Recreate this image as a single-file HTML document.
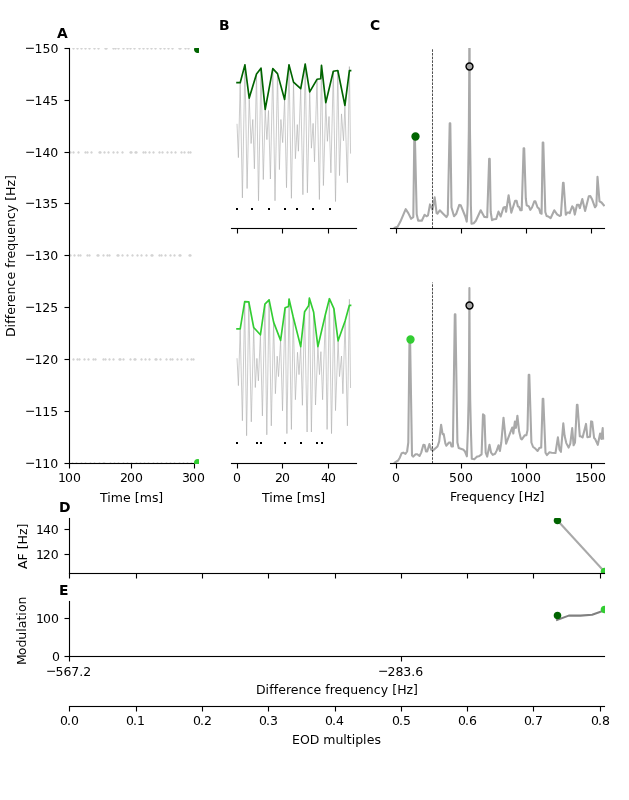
<!DOCTYPE html>
<html lang="en"><head><meta charset="utf-8"><title>Figure</title>
<style>
html,body{margin:0;padding:0;background:#fff;}
body{width:629px;height:800px;overflow:hidden;position:relative;font-family:"DejaVu Sans","Liberation Sans",sans-serif;}
svg{display:block;position:absolute;left:0;top:0;}
svg text{font-family:"DejaVu Sans","Liberation Sans",sans-serif;fill:#000;}
svg path{stroke-linejoin:round;stroke-linecap:butt;}
</style></head><body>
<svg width="629" height="800" viewBox="0 0 629 800" role="img" aria-label="Figure with panels A to E">
<defs><clipPath id="c1"><rect x="69" y="48" width="126" height="416"/></clipPath><clipPath id="c2"><rect x="69" y="48" width="130" height="416"/></clipPath><clipPath id="c3"><rect x="231" y="48" width="126" height="181"/></clipPath><clipPath id="c4"><rect x="231" y="282" width="126" height="182"/></clipPath><clipPath id="c5"><rect x="390" y="48" width="215" height="181"/></clipPath><clipPath id="c6"><rect x="390" y="282" width="215" height="182"/></clipPath><clipPath id="c7"><rect x="69" y="518" width="536" height="56"/></clipPath><clipPath id="c8"><rect x="69" y="601" width="536" height="56"/></clipPath></defs>
<rect x="68.945" y="463.5" width="1.111" height="5" fill="#000"/>
<text id="t0" x="57.94 64.95 72.98" y="481.82" style="font-size:12.5px">100</text>
<rect x="130.945" y="463.5" width="1.111" height="5" fill="#000"/>
<text id="t1" x="119.94 126.99 134.91" y="481.7" style="font-size:12.5px">200</text>
<rect x="193.945" y="463.5" width="1.111" height="5" fill="#000"/>
<text id="t2" x="181.89 188.89 196.89" y="481.57" style="font-size:12.5px">300</text>
<text id="t3" x="99.99 107.28 110.8 123.03 130.77 134.8 139.72 151.94 158.13" y="501.72" style="font-size:12.5px">Time [ms]</text>
<rect x="64.5" y="47.944" width="5" height="1.111" fill="#000"/>
<text id="t4" x="24.63 34.43 42.6 50.59" y="51.62 52.62 52.62 52.62" style="font-size:12.5px">−150</text>
<rect x="64.5" y="99.945" width="5" height="1.111" fill="#000"/>
<text id="t5" x="24.9 34.54 42.42 50.29" y="103.57 104.57 104.57 104.57" style="font-size:12.5px">−145</text>
<rect x="64.5" y="151.945" width="5" height="1.111" fill="#000"/>
<text id="t6" x="24.9 34.54 42.42 50.29" y="155.52 156.52 156.52 156.52" style="font-size:12.5px">−140</text>
<rect x="64.5" y="202.945" width="5" height="1.111" fill="#000"/>
<text id="t7" x="24.9 34.54 42.17 50.29" y="206.6 207.6 207.6 207.6" style="font-size:12.5px">−135</text>
<rect x="64.5" y="254.945" width="5" height="1.111" fill="#000"/>
<text id="t8" x="24.9 34.54 42.17 50.29" y="258.55 259.55 259.55 259.55" style="font-size:12.5px">−130</text>
<rect x="64.5" y="306.945" width="5" height="1.111" fill="#000"/>
<text id="t9" x="24.9 34.54 42.17 50.29" y="310.62 311.62 311.62 311.62" style="font-size:12.5px">−125</text>
<rect x="64.5" y="358.945" width="5" height="1.111" fill="#000"/>
<text id="t10" x="24.9 34.54 42.17 50.29" y="362.57 363.57 363.57 363.57" style="font-size:12.5px">−120</text>
<rect x="64.5" y="410.945" width="5" height="1.111" fill="#000"/>
<text id="t11" x="24.93 34.48 42.37 50.28" y="414.52 415.52 415.52 415.52" style="font-size:12.5px">−115</text>
<rect x="64.5" y="462.945" width="5" height="1.111" fill="#000"/>
<text id="t12" x="24.93 34.48 42.37 50.28" y="466.6 467.6 467.6 467.6" style="font-size:12.5px">−110</text>
<text id="t13" x="-66.45 -57.17 -53.28 -48.84 -44.4 -36.93 -31.78 -24.04 -16.09 -9.17 -1.45 2.69 7 11.91 19.63 27.61 35.69 43.43 51.38 58.16 65.6 69.61 74.54 83.97 90.57" y="255.92" transform="rotate(-90 14.52 255.92)" style="font-size:12.5px">Difference frequency [Hz]</text>
<g clip-path="url(#c1)">
<path d="M73.5 49.7C73.82 49.7 74.12 49.57 74.35 49.35C74.57 49.12 74.7 48.82 74.7 48.5C74.7 48.18 74.57 47.88 74.35 47.65C74.12 47.43 73.82 47.3 73.5 47.3C73.18 47.3 72.88 47.43 72.65 47.65C72.43 47.88 72.3 48.18 72.3 48.5C72.3 48.82 72.43 49.12 72.65 49.35C72.88 49.57 73.18 49.7 73.5 49.7Z" style="fill:#d3d3d3;stroke:#000000;stroke-opacity:0"/>
<path d="M77.5 49.7C77.82 49.7 78.12 49.57 78.35 49.35C78.57 49.12 78.7 48.82 78.7 48.5C78.7 48.18 78.57 47.88 78.35 47.65C78.12 47.43 77.82 47.3 77.5 47.3C77.18 47.3 76.88 47.43 76.65 47.65C76.43 47.88 76.3 48.18 76.3 48.5C76.3 48.82 76.43 49.12 76.65 49.35C76.88 49.57 77.18 49.7 77.5 49.7Z" style="fill:#d3d3d3;stroke:#000000;stroke-opacity:0"/>
<path d="M81.5 49.7C81.82 49.7 82.12 49.57 82.35 49.35C82.57 49.12 82.7 48.82 82.7 48.5C82.7 48.18 82.57 47.88 82.35 47.65C82.12 47.43 81.82 47.3 81.5 47.3C81.18 47.3 80.88 47.43 80.65 47.65C80.43 47.88 80.3 48.18 80.3 48.5C80.3 48.82 80.43 49.12 80.65 49.35C80.88 49.57 81.18 49.7 81.5 49.7Z" style="fill:#d3d3d3;stroke:#000000;stroke-opacity:0"/>
<path d="M85.5 49.7C85.82 49.7 86.12 49.57 86.35 49.35C86.57 49.12 86.7 48.82 86.7 48.5C86.7 48.18 86.57 47.88 86.35 47.65C86.12 47.43 85.82 47.3 85.5 47.3C85.18 47.3 84.88 47.43 84.65 47.65C84.43 47.88 84.3 48.18 84.3 48.5C84.3 48.82 84.43 49.12 84.65 49.35C84.88 49.57 85.18 49.7 85.5 49.7Z" style="fill:#d3d3d3;stroke:#000000;stroke-opacity:0"/>
<path d="M89.5 49.7C89.82 49.7 90.12 49.57 90.35 49.35C90.57 49.12 90.7 48.82 90.7 48.5C90.7 48.18 90.57 47.88 90.35 47.65C90.12 47.43 89.82 47.3 89.5 47.3C89.18 47.3 88.88 47.43 88.65 47.65C88.43 47.88 88.3 48.18 88.3 48.5C88.3 48.82 88.43 49.12 88.65 49.35C88.88 49.57 89.18 49.7 89.5 49.7Z" style="fill:#d3d3d3;stroke:#000000;stroke-opacity:0"/>
<path d="M94.5 49.7C94.82 49.7 95.12 49.57 95.35 49.35C95.57 49.12 95.7 48.82 95.7 48.5C95.7 48.18 95.57 47.88 95.35 47.65C95.12 47.43 94.82 47.3 94.5 47.3C94.18 47.3 93.88 47.43 93.65 47.65C93.43 47.88 93.3 48.18 93.3 48.5C93.3 48.82 93.43 49.12 93.65 49.35C93.88 49.57 94.18 49.7 94.5 49.7Z" style="fill:#d3d3d3;stroke:#000000;stroke-opacity:0"/>
<path d="M98.5 49.7C98.82 49.7 99.12 49.57 99.35 49.35C99.57 49.12 99.7 48.82 99.7 48.5C99.7 48.18 99.57 47.88 99.35 47.65C99.12 47.43 98.82 47.3 98.5 47.3C98.18 47.3 97.88 47.43 97.65 47.65C97.43 47.88 97.3 48.18 97.3 48.5C97.3 48.82 97.43 49.12 97.65 49.35C97.88 49.57 98.18 49.7 98.5 49.7Z" style="fill:#d3d3d3;stroke:#000000;stroke-opacity:0"/>
<path d="M105.5 49.7C105.82 49.7 106.12 49.57 106.35 49.35C106.57 49.12 106.7 48.82 106.7 48.5C106.7 48.18 106.57 47.88 106.35 47.65C106.12 47.43 105.82 47.3 105.5 47.3C105.18 47.3 104.88 47.43 104.65 47.65C104.43 47.88 104.3 48.18 104.3 48.5C104.3 48.82 104.43 49.12 104.65 49.35C104.88 49.57 105.18 49.7 105.5 49.7Z" style="fill:#d3d3d3;stroke:#000000;stroke-opacity:0"/>
<path d="M106.5 49.7C106.82 49.7 107.12 49.57 107.35 49.35C107.57 49.12 107.7 48.82 107.7 48.5C107.7 48.18 107.57 47.88 107.35 47.65C107.12 47.43 106.82 47.3 106.5 47.3C106.18 47.3 105.88 47.43 105.65 47.65C105.43 47.88 105.3 48.18 105.3 48.5C105.3 48.82 105.43 49.12 105.65 49.35C105.88 49.57 106.18 49.7 106.5 49.7Z" style="fill:#d3d3d3;stroke:#000000;stroke-opacity:0"/>
<path d="M113.5 49.7C113.82 49.7 114.12 49.57 114.35 49.35C114.57 49.12 114.7 48.82 114.7 48.5C114.7 48.18 114.57 47.88 114.35 47.65C114.12 47.43 113.82 47.3 113.5 47.3C113.18 47.3 112.88 47.43 112.65 47.65C112.43 47.88 112.3 48.18 112.3 48.5C112.3 48.82 112.43 49.12 112.65 49.35C112.88 49.57 113.18 49.7 113.5 49.7Z" style="fill:#d3d3d3;stroke:#000000;stroke-opacity:0"/>
<path d="M115.5 49.7C115.82 49.7 116.12 49.57 116.35 49.35C116.57 49.12 116.7 48.82 116.7 48.5C116.7 48.18 116.57 47.88 116.35 47.65C116.12 47.43 115.82 47.3 115.5 47.3C115.18 47.3 114.88 47.43 114.65 47.65C114.43 47.88 114.3 48.18 114.3 48.5C114.3 48.82 114.43 49.12 114.65 49.35C114.88 49.57 115.18 49.7 115.5 49.7Z" style="fill:#d3d3d3;stroke:#000000;stroke-opacity:0"/>
<path d="M118.5 49.7C118.82 49.7 119.12 49.57 119.35 49.35C119.57 49.12 119.7 48.82 119.7 48.5C119.7 48.18 119.57 47.88 119.35 47.65C119.12 47.43 118.82 47.3 118.5 47.3C118.18 47.3 117.88 47.43 117.65 47.65C117.43 47.88 117.3 48.18 117.3 48.5C117.3 48.82 117.43 49.12 117.65 49.35C117.88 49.57 118.18 49.7 118.5 49.7Z" style="fill:#d3d3d3;stroke:#000000;stroke-opacity:0"/>
<path d="M123.5 49.7C123.82 49.7 124.12 49.57 124.35 49.35C124.57 49.12 124.7 48.82 124.7 48.5C124.7 48.18 124.57 47.88 124.35 47.65C124.12 47.43 123.82 47.3 123.5 47.3C123.18 47.3 122.88 47.43 122.65 47.65C122.43 47.88 122.3 48.18 122.3 48.5C122.3 48.82 122.43 49.12 122.65 49.35C122.88 49.57 123.18 49.7 123.5 49.7Z" style="fill:#d3d3d3;stroke:#000000;stroke-opacity:0"/>
<path d="M127.5 49.7C127.82 49.7 128.12 49.57 128.35 49.35C128.57 49.12 128.7 48.82 128.7 48.5C128.7 48.18 128.57 47.88 128.35 47.65C128.12 47.43 127.82 47.3 127.5 47.3C127.18 47.3 126.88 47.43 126.65 47.65C126.43 47.88 126.3 48.18 126.3 48.5C126.3 48.82 126.43 49.12 126.65 49.35C126.88 49.57 127.18 49.7 127.5 49.7Z" style="fill:#d3d3d3;stroke:#000000;stroke-opacity:0"/>
<path d="M130.5 49.7C130.82 49.7 131.12 49.57 131.35 49.35C131.57 49.12 131.7 48.82 131.7 48.5C131.7 48.18 131.57 47.88 131.35 47.65C131.12 47.43 130.82 47.3 130.5 47.3C130.18 47.3 129.88 47.43 129.65 47.65C129.43 47.88 129.3 48.18 129.3 48.5C129.3 48.82 129.43 49.12 129.65 49.35C129.88 49.57 130.18 49.7 130.5 49.7Z" style="fill:#d3d3d3;stroke:#000000;stroke-opacity:0"/>
<path d="M134.5 49.7C134.82 49.7 135.12 49.57 135.35 49.35C135.57 49.12 135.7 48.82 135.7 48.5C135.7 48.18 135.57 47.88 135.35 47.65C135.12 47.43 134.82 47.3 134.5 47.3C134.18 47.3 133.88 47.43 133.65 47.65C133.43 47.88 133.3 48.18 133.3 48.5C133.3 48.82 133.43 49.12 133.65 49.35C133.88 49.57 134.18 49.7 134.5 49.7Z" style="fill:#d3d3d3;stroke:#000000;stroke-opacity:0"/>
<path d="M139.5 49.7C139.82 49.7 140.12 49.57 140.35 49.35C140.57 49.12 140.7 48.82 140.7 48.5C140.7 48.18 140.57 47.88 140.35 47.65C140.12 47.43 139.82 47.3 139.5 47.3C139.18 47.3 138.88 47.43 138.65 47.65C138.43 47.88 138.3 48.18 138.3 48.5C138.3 48.82 138.43 49.12 138.65 49.35C138.88 49.57 139.18 49.7 139.5 49.7Z" style="fill:#d3d3d3;stroke:#000000;stroke-opacity:0"/>
<path d="M143.5 49.7C143.82 49.7 144.12 49.57 144.35 49.35C144.57 49.12 144.7 48.82 144.7 48.5C144.7 48.18 144.57 47.88 144.35 47.65C144.12 47.43 143.82 47.3 143.5 47.3C143.18 47.3 142.88 47.43 142.65 47.65C142.43 47.88 142.3 48.18 142.3 48.5C142.3 48.82 142.43 49.12 142.65 49.35C142.88 49.57 143.18 49.7 143.5 49.7Z" style="fill:#d3d3d3;stroke:#000000;stroke-opacity:0"/>
<path d="M147.5 49.7C147.82 49.7 148.12 49.57 148.35 49.35C148.57 49.12 148.7 48.82 148.7 48.5C148.7 48.18 148.57 47.88 148.35 47.65C148.12 47.43 147.82 47.3 147.5 47.3C147.18 47.3 146.88 47.43 146.65 47.65C146.43 47.88 146.3 48.18 146.3 48.5C146.3 48.82 146.43 49.12 146.65 49.35C146.88 49.57 147.18 49.7 147.5 49.7Z" style="fill:#d3d3d3;stroke:#000000;stroke-opacity:0"/>
<path d="M151.5 49.7C151.82 49.7 152.12 49.57 152.35 49.35C152.57 49.12 152.7 48.82 152.7 48.5C152.7 48.18 152.57 47.88 152.35 47.65C152.12 47.43 151.82 47.3 151.5 47.3C151.18 47.3 150.88 47.43 150.65 47.65C150.43 47.88 150.3 48.18 150.3 48.5C150.3 48.82 150.43 49.12 150.65 49.35C150.88 49.57 151.18 49.7 151.5 49.7Z" style="fill:#d3d3d3;stroke:#000000;stroke-opacity:0"/>
<path d="M155.5 49.7C155.82 49.7 156.12 49.57 156.35 49.35C156.57 49.12 156.7 48.82 156.7 48.5C156.7 48.18 156.57 47.88 156.35 47.65C156.12 47.43 155.82 47.3 155.5 47.3C155.18 47.3 154.88 47.43 154.65 47.65C154.43 47.88 154.3 48.18 154.3 48.5C154.3 48.82 154.43 49.12 154.65 49.35C154.88 49.57 155.18 49.7 155.5 49.7Z" style="fill:#d3d3d3;stroke:#000000;stroke-opacity:0"/>
<path d="M160.5 49.7C160.82 49.7 161.12 49.57 161.35 49.35C161.57 49.12 161.7 48.82 161.7 48.5C161.7 48.18 161.57 47.88 161.35 47.65C161.12 47.43 160.82 47.3 160.5 47.3C160.18 47.3 159.88 47.43 159.65 47.65C159.43 47.88 159.3 48.18 159.3 48.5C159.3 48.82 159.43 49.12 159.65 49.35C159.88 49.57 160.18 49.7 160.5 49.7Z" style="fill:#d3d3d3;stroke:#000000;stroke-opacity:0"/>
<path d="M164.5 49.7C164.82 49.7 165.12 49.57 165.35 49.35C165.57 49.12 165.7 48.82 165.7 48.5C165.7 48.18 165.57 47.88 165.35 47.65C165.12 47.43 164.82 47.3 164.5 47.3C164.18 47.3 163.88 47.43 163.65 47.65C163.43 47.88 163.3 48.18 163.3 48.5C163.3 48.82 163.43 49.12 163.65 49.35C163.88 49.57 164.18 49.7 164.5 49.7Z" style="fill:#d3d3d3;stroke:#000000;stroke-opacity:0"/>
<path d="M168.5 49.7C168.82 49.7 169.12 49.57 169.35 49.35C169.57 49.12 169.7 48.82 169.7 48.5C169.7 48.18 169.57 47.88 169.35 47.65C169.12 47.43 168.82 47.3 168.5 47.3C168.18 47.3 167.88 47.43 167.65 47.65C167.43 47.88 167.3 48.18 167.3 48.5C167.3 48.82 167.43 49.12 167.65 49.35C167.88 49.57 168.18 49.7 168.5 49.7Z" style="fill:#d3d3d3;stroke:#000000;stroke-opacity:0"/>
<path d="M172.5 49.7C172.82 49.7 173.12 49.57 173.35 49.35C173.57 49.12 173.7 48.82 173.7 48.5C173.7 48.18 173.57 47.88 173.35 47.65C173.12 47.43 172.82 47.3 172.5 47.3C172.18 47.3 171.88 47.43 171.65 47.65C171.43 47.88 171.3 48.18 171.3 48.5C171.3 48.82 171.43 49.12 171.65 49.35C171.88 49.57 172.18 49.7 172.5 49.7Z" style="fill:#d3d3d3;stroke:#000000;stroke-opacity:0"/>
<path d="M179.5 49.7C179.82 49.7 180.12 49.57 180.35 49.35C180.57 49.12 180.7 48.82 180.7 48.5C180.7 48.18 180.57 47.88 180.35 47.65C180.12 47.43 179.82 47.3 179.5 47.3C179.18 47.3 178.88 47.43 178.65 47.65C178.43 47.88 178.3 48.18 178.3 48.5C178.3 48.82 178.43 49.12 178.65 49.35C178.88 49.57 179.18 49.7 179.5 49.7Z" style="fill:#d3d3d3;stroke:#000000;stroke-opacity:0"/>
<path d="M180.5 49.7C180.82 49.7 181.12 49.57 181.35 49.35C181.57 49.12 181.7 48.82 181.7 48.5C181.7 48.18 181.57 47.88 181.35 47.65C181.12 47.43 180.82 47.3 180.5 47.3C180.18 47.3 179.88 47.43 179.65 47.65C179.43 47.88 179.3 48.18 179.3 48.5C179.3 48.82 179.43 49.12 179.65 49.35C179.88 49.57 180.18 49.7 180.5 49.7Z" style="fill:#d3d3d3;stroke:#000000;stroke-opacity:0"/>
<path d="M185.5 49.7C185.82 49.7 186.12 49.57 186.35 49.35C186.57 49.12 186.7 48.82 186.7 48.5C186.7 48.18 186.57 47.88 186.35 47.65C186.12 47.43 185.82 47.3 185.5 47.3C185.18 47.3 184.88 47.43 184.65 47.65C184.43 47.88 184.3 48.18 184.3 48.5C184.3 48.82 184.43 49.12 184.65 49.35C184.88 49.57 185.18 49.7 185.5 49.7Z" style="fill:#d3d3d3;stroke:#000000;stroke-opacity:0"/>
<path d="M188.5 49.7C188.82 49.7 189.12 49.57 189.35 49.35C189.57 49.12 189.7 48.82 189.7 48.5C189.7 48.18 189.57 47.88 189.35 47.65C189.12 47.43 188.82 47.3 188.5 47.3C188.18 47.3 187.88 47.43 187.65 47.65C187.43 47.88 187.3 48.18 187.3 48.5C187.3 48.82 187.43 49.12 187.65 49.35C187.88 49.57 188.18 49.7 188.5 49.7Z" style="fill:#d3d3d3;stroke:#000000;stroke-opacity:0"/>
</g>
<g clip-path="url(#c1)">
<path d="M70.5 153.7C70.82 153.7 71.12 153.57 71.35 153.35C71.57 153.12 71.7 152.82 71.7 152.5C71.7 152.18 71.57 151.88 71.35 151.65C71.12 151.43 70.82 151.3 70.5 151.3C70.18 151.3 69.88 151.43 69.65 151.65C69.43 151.88 69.3 152.18 69.3 152.5C69.3 152.82 69.43 153.12 69.65 153.35C69.88 153.57 70.18 153.7 70.5 153.7Z" style="fill:#d3d3d3;stroke:#000000;stroke-opacity:0"/>
<path d="M73.5 153.7C73.82 153.7 74.12 153.57 74.35 153.35C74.57 153.12 74.7 152.82 74.7 152.5C74.7 152.18 74.57 151.88 74.35 151.65C74.12 151.43 73.82 151.3 73.5 151.3C73.18 151.3 72.88 151.43 72.65 151.65C72.43 151.88 72.3 152.18 72.3 152.5C72.3 152.82 72.43 153.12 72.65 153.35C72.88 153.57 73.18 153.7 73.5 153.7Z" style="fill:#d3d3d3;stroke:#000000;stroke-opacity:0"/>
<path d="M78.5 153.7C78.82 153.7 79.12 153.57 79.35 153.35C79.57 153.12 79.7 152.82 79.7 152.5C79.7 152.18 79.57 151.88 79.35 151.65C79.12 151.43 78.82 151.3 78.5 151.3C78.18 151.3 77.88 151.43 77.65 151.65C77.43 151.88 77.3 152.18 77.3 152.5C77.3 152.82 77.43 153.12 77.65 153.35C77.88 153.57 78.18 153.7 78.5 153.7Z" style="fill:#d3d3d3;stroke:#000000;stroke-opacity:0"/>
<path d="M85.5 153.7C85.82 153.7 86.12 153.57 86.35 153.35C86.57 153.12 86.7 152.82 86.7 152.5C86.7 152.18 86.57 151.88 86.35 151.65C86.12 151.43 85.82 151.3 85.5 151.3C85.18 151.3 84.88 151.43 84.65 151.65C84.43 151.88 84.3 152.18 84.3 152.5C84.3 152.82 84.43 153.12 84.65 153.35C84.88 153.57 85.18 153.7 85.5 153.7Z" style="fill:#d3d3d3;stroke:#000000;stroke-opacity:0"/>
<path d="M87.5 153.7C87.82 153.7 88.12 153.57 88.35 153.35C88.57 153.12 88.7 152.82 88.7 152.5C88.7 152.18 88.57 151.88 88.35 151.65C88.12 151.43 87.82 151.3 87.5 151.3C87.18 151.3 86.88 151.43 86.65 151.65C86.43 151.88 86.3 152.18 86.3 152.5C86.3 152.82 86.43 153.12 86.65 153.35C86.88 153.57 87.18 153.7 87.5 153.7Z" style="fill:#d3d3d3;stroke:#000000;stroke-opacity:0"/>
<path d="M91.5 153.7C91.82 153.7 92.12 153.57 92.35 153.35C92.57 153.12 92.7 152.82 92.7 152.5C92.7 152.18 92.57 151.88 92.35 151.65C92.12 151.43 91.82 151.3 91.5 151.3C91.18 151.3 90.88 151.43 90.65 151.65C90.43 151.88 90.3 152.18 90.3 152.5C90.3 152.82 90.43 153.12 90.65 153.35C90.88 153.57 91.18 153.7 91.5 153.7Z" style="fill:#d3d3d3;stroke:#000000;stroke-opacity:0"/>
<path d="M99.5 153.7C99.82 153.7 100.12 153.57 100.35 153.35C100.57 153.12 100.7 152.82 100.7 152.5C100.7 152.18 100.57 151.88 100.35 151.65C100.12 151.43 99.82 151.3 99.5 151.3C99.18 151.3 98.88 151.43 98.65 151.65C98.43 151.88 98.3 152.18 98.3 152.5C98.3 152.82 98.43 153.12 98.65 153.35C98.88 153.57 99.18 153.7 99.5 153.7Z" style="fill:#d3d3d3;stroke:#000000;stroke-opacity:0"/>
<path d="M100.5 153.7C100.82 153.7 101.12 153.57 101.35 153.35C101.57 153.12 101.7 152.82 101.7 152.5C101.7 152.18 101.57 151.88 101.35 151.65C101.12 151.43 100.82 151.3 100.5 151.3C100.18 151.3 99.88 151.43 99.65 151.65C99.43 151.88 99.3 152.18 99.3 152.5C99.3 152.82 99.43 153.12 99.65 153.35C99.88 153.57 100.18 153.7 100.5 153.7Z" style="fill:#d3d3d3;stroke:#000000;stroke-opacity:0"/>
<path d="M104.5 153.7C104.82 153.7 105.12 153.57 105.35 153.35C105.57 153.12 105.7 152.82 105.7 152.5C105.7 152.18 105.57 151.88 105.35 151.65C105.12 151.43 104.82 151.3 104.5 151.3C104.18 151.3 103.88 151.43 103.65 151.65C103.43 151.88 103.3 152.18 103.3 152.5C103.3 152.82 103.43 153.12 103.65 153.35C103.88 153.57 104.18 153.7 104.5 153.7Z" style="fill:#d3d3d3;stroke:#000000;stroke-opacity:0"/>
<path d="M108.5 153.7C108.82 153.7 109.12 153.57 109.35 153.35C109.57 153.12 109.7 152.82 109.7 152.5C109.7 152.18 109.57 151.88 109.35 151.65C109.12 151.43 108.82 151.3 108.5 151.3C108.18 151.3 107.88 151.43 107.65 151.65C107.43 151.88 107.3 152.18 107.3 152.5C107.3 152.82 107.43 153.12 107.65 153.35C107.88 153.57 108.18 153.7 108.5 153.7Z" style="fill:#d3d3d3;stroke:#000000;stroke-opacity:0"/>
<path d="M113.5 153.7C113.82 153.7 114.12 153.57 114.35 153.35C114.57 153.12 114.7 152.82 114.7 152.5C114.7 152.18 114.57 151.88 114.35 151.65C114.12 151.43 113.82 151.3 113.5 151.3C113.18 151.3 112.88 151.43 112.65 151.65C112.43 151.88 112.3 152.18 112.3 152.5C112.3 152.82 112.43 153.12 112.65 153.35C112.88 153.57 113.18 153.7 113.5 153.7Z" style="fill:#d3d3d3;stroke:#000000;stroke-opacity:0"/>
<path d="M117.5 153.7C117.82 153.7 118.12 153.57 118.35 153.35C118.57 153.12 118.7 152.82 118.7 152.5C118.7 152.18 118.57 151.88 118.35 151.65C118.12 151.43 117.82 151.3 117.5 151.3C117.18 151.3 116.88 151.43 116.65 151.65C116.43 151.88 116.3 152.18 116.3 152.5C116.3 152.82 116.43 153.12 116.65 153.35C116.88 153.57 117.18 153.7 117.5 153.7Z" style="fill:#d3d3d3;stroke:#000000;stroke-opacity:0"/>
<path d="M122.5 153.7C122.82 153.7 123.12 153.57 123.35 153.35C123.57 153.12 123.7 152.82 123.7 152.5C123.7 152.18 123.57 151.88 123.35 151.65C123.12 151.43 122.82 151.3 122.5 151.3C122.18 151.3 121.88 151.43 121.65 151.65C121.43 151.88 121.3 152.18 121.3 152.5C121.3 152.82 121.43 153.12 121.65 153.35C121.88 153.57 122.18 153.7 122.5 153.7Z" style="fill:#d3d3d3;stroke:#000000;stroke-opacity:0"/>
<path d="M130.5 153.7C130.82 153.7 131.12 153.57 131.35 153.35C131.57 153.12 131.7 152.82 131.7 152.5C131.7 152.18 131.57 151.88 131.35 151.65C131.12 151.43 130.82 151.3 130.5 151.3C130.18 151.3 129.88 151.43 129.65 151.65C129.43 151.88 129.3 152.18 129.3 152.5C129.3 152.82 129.43 153.12 129.65 153.35C129.88 153.57 130.18 153.7 130.5 153.7Z" style="fill:#d3d3d3;stroke:#000000;stroke-opacity:0"/>
<path d="M131.5 153.7C131.82 153.7 132.12 153.57 132.35 153.35C132.57 153.12 132.7 152.82 132.7 152.5C132.7 152.18 132.57 151.88 132.35 151.65C132.12 151.43 131.82 151.3 131.5 151.3C131.18 151.3 130.88 151.43 130.65 151.65C130.43 151.88 130.3 152.18 130.3 152.5C130.3 152.82 130.43 153.12 130.65 153.35C130.88 153.57 131.18 153.7 131.5 153.7Z" style="fill:#d3d3d3;stroke:#000000;stroke-opacity:0"/>
<path d="M135.5 153.7C135.82 153.7 136.12 153.57 136.35 153.35C136.57 153.12 136.7 152.82 136.7 152.5C136.7 152.18 136.57 151.88 136.35 151.65C136.12 151.43 135.82 151.3 135.5 151.3C135.18 151.3 134.88 151.43 134.65 151.65C134.43 151.88 134.3 152.18 134.3 152.5C134.3 152.82 134.43 153.12 134.65 153.35C134.88 153.57 135.18 153.7 135.5 153.7Z" style="fill:#d3d3d3;stroke:#000000;stroke-opacity:0"/>
<path d="M136.5 153.7C136.82 153.7 137.12 153.57 137.35 153.35C137.57 153.12 137.7 152.82 137.7 152.5C137.7 152.18 137.57 151.88 137.35 151.65C137.12 151.43 136.82 151.3 136.5 151.3C136.18 151.3 135.88 151.43 135.65 151.65C135.43 151.88 135.3 152.18 135.3 152.5C135.3 152.82 135.43 153.12 135.65 153.35C135.88 153.57 136.18 153.7 136.5 153.7Z" style="fill:#d3d3d3;stroke:#000000;stroke-opacity:0"/>
<path d="M143.5 153.7C143.82 153.7 144.12 153.57 144.35 153.35C144.57 153.12 144.7 152.82 144.7 152.5C144.7 152.18 144.57 151.88 144.35 151.65C144.12 151.43 143.82 151.3 143.5 151.3C143.18 151.3 142.88 151.43 142.65 151.65C142.43 151.88 142.3 152.18 142.3 152.5C142.3 152.82 142.43 153.12 142.65 153.35C142.88 153.57 143.18 153.7 143.5 153.7Z" style="fill:#d3d3d3;stroke:#000000;stroke-opacity:0"/>
<path d="M145.5 153.7C145.82 153.7 146.12 153.57 146.35 153.35C146.57 153.12 146.7 152.82 146.7 152.5C146.7 152.18 146.57 151.88 146.35 151.65C146.12 151.43 145.82 151.3 145.5 151.3C145.18 151.3 144.88 151.43 144.65 151.65C144.43 151.88 144.3 152.18 144.3 152.5C144.3 152.82 144.43 153.12 144.65 153.35C144.88 153.57 145.18 153.7 145.5 153.7Z" style="fill:#d3d3d3;stroke:#000000;stroke-opacity:0"/>
<path d="M149.5 153.7C149.82 153.7 150.12 153.57 150.35 153.35C150.57 153.12 150.7 152.82 150.7 152.5C150.7 152.18 150.57 151.88 150.35 151.65C150.12 151.43 149.82 151.3 149.5 151.3C149.18 151.3 148.88 151.43 148.65 151.65C148.43 151.88 148.3 152.18 148.3 152.5C148.3 152.82 148.43 153.12 148.65 153.35C148.88 153.57 149.18 153.7 149.5 153.7Z" style="fill:#d3d3d3;stroke:#000000;stroke-opacity:0"/>
<path d="M153.5 153.7C153.82 153.7 154.12 153.57 154.35 153.35C154.57 153.12 154.7 152.82 154.7 152.5C154.7 152.18 154.57 151.88 154.35 151.65C154.12 151.43 153.82 151.3 153.5 151.3C153.18 151.3 152.88 151.43 152.65 151.65C152.43 151.88 152.3 152.18 152.3 152.5C152.3 152.82 152.43 153.12 152.65 153.35C152.88 153.57 153.18 153.7 153.5 153.7Z" style="fill:#d3d3d3;stroke:#000000;stroke-opacity:0"/>
<path d="M159.5 153.7C159.82 153.7 160.12 153.57 160.35 153.35C160.57 153.12 160.7 152.82 160.7 152.5C160.7 152.18 160.57 151.88 160.35 151.65C160.12 151.43 159.82 151.3 159.5 151.3C159.18 151.3 158.88 151.43 158.65 151.65C158.43 151.88 158.3 152.18 158.3 152.5C158.3 152.82 158.43 153.12 158.65 153.35C158.88 153.57 159.18 153.7 159.5 153.7Z" style="fill:#d3d3d3;stroke:#000000;stroke-opacity:0"/>
<path d="M162.5 153.7C162.82 153.7 163.12 153.57 163.35 153.35C163.57 153.12 163.7 152.82 163.7 152.5C163.7 152.18 163.57 151.88 163.35 151.65C163.12 151.43 162.82 151.3 162.5 151.3C162.18 151.3 161.88 151.43 161.65 151.65C161.43 151.88 161.3 152.18 161.3 152.5C161.3 152.82 161.43 153.12 161.65 153.35C161.88 153.57 162.18 153.7 162.5 153.7Z" style="fill:#d3d3d3;stroke:#000000;stroke-opacity:0"/>
<path d="M167.5 153.7C167.82 153.7 168.12 153.57 168.35 153.35C168.57 153.12 168.7 152.82 168.7 152.5C168.7 152.18 168.57 151.88 168.35 151.65C168.12 151.43 167.82 151.3 167.5 151.3C167.18 151.3 166.88 151.43 166.65 151.65C166.43 151.88 166.3 152.18 166.3 152.5C166.3 152.82 166.43 153.12 166.65 153.35C166.88 153.57 167.18 153.7 167.5 153.7Z" style="fill:#d3d3d3;stroke:#000000;stroke-opacity:0"/>
<path d="M171.5 153.7C171.82 153.7 172.12 153.57 172.35 153.35C172.57 153.12 172.7 152.82 172.7 152.5C172.7 152.18 172.57 151.88 172.35 151.65C172.12 151.43 171.82 151.3 171.5 151.3C171.18 151.3 170.88 151.43 170.65 151.65C170.43 151.88 170.3 152.18 170.3 152.5C170.3 152.82 170.43 153.12 170.65 153.35C170.88 153.57 171.18 153.7 171.5 153.7Z" style="fill:#d3d3d3;stroke:#000000;stroke-opacity:0"/>
<path d="M175.5 153.7C175.82 153.7 176.12 153.57 176.35 153.35C176.57 153.12 176.7 152.82 176.7 152.5C176.7 152.18 176.57 151.88 176.35 151.65C176.12 151.43 175.82 151.3 175.5 151.3C175.18 151.3 174.88 151.43 174.65 151.65C174.43 151.88 174.3 152.18 174.3 152.5C174.3 152.82 174.43 153.12 174.65 153.35C174.88 153.57 175.18 153.7 175.5 153.7Z" style="fill:#d3d3d3;stroke:#000000;stroke-opacity:0"/>
<path d="M181.5 153.7C181.82 153.7 182.12 153.57 182.35 153.35C182.57 153.12 182.7 152.82 182.7 152.5C182.7 152.18 182.57 151.88 182.35 151.65C182.12 151.43 181.82 151.3 181.5 151.3C181.18 151.3 180.88 151.43 180.65 151.65C180.43 151.88 180.3 152.18 180.3 152.5C180.3 152.82 180.43 153.12 180.65 153.35C180.88 153.57 181.18 153.7 181.5 153.7Z" style="fill:#d3d3d3;stroke:#000000;stroke-opacity:0"/>
<path d="M184.5 153.7C184.82 153.7 185.12 153.57 185.35 153.35C185.57 153.12 185.7 152.82 185.7 152.5C185.7 152.18 185.57 151.88 185.35 151.65C185.12 151.43 184.82 151.3 184.5 151.3C184.18 151.3 183.88 151.43 183.65 151.65C183.43 151.88 183.3 152.18 183.3 152.5C183.3 152.82 183.43 153.12 183.65 153.35C183.88 153.57 184.18 153.7 184.5 153.7Z" style="fill:#d3d3d3;stroke:#000000;stroke-opacity:0"/>
<path d="M188.5 153.7C188.82 153.7 189.12 153.57 189.35 153.35C189.57 153.12 189.7 152.82 189.7 152.5C189.7 152.18 189.57 151.88 189.35 151.65C189.12 151.43 188.82 151.3 188.5 151.3C188.18 151.3 187.88 151.43 187.65 151.65C187.43 151.88 187.3 152.18 187.3 152.5C187.3 152.82 187.43 153.12 187.65 153.35C187.88 153.57 188.18 153.7 188.5 153.7Z" style="fill:#d3d3d3;stroke:#000000;stroke-opacity:0"/>
<path d="M190.5 153.7C190.82 153.7 191.12 153.57 191.35 153.35C191.57 153.12 191.7 152.82 191.7 152.5C191.7 152.18 191.57 151.88 191.35 151.65C191.12 151.43 190.82 151.3 190.5 151.3C190.18 151.3 189.88 151.43 189.65 151.65C189.43 151.88 189.3 152.18 189.3 152.5C189.3 152.82 189.43 153.12 189.65 153.35C189.88 153.57 190.18 153.7 190.5 153.7Z" style="fill:#d3d3d3;stroke:#000000;stroke-opacity:0"/>
</g>
<g clip-path="url(#c1)">
<path d="M70.5 256.7C70.82 256.7 71.12 256.57 71.35 256.35C71.57 256.12 71.7 255.82 71.7 255.5C71.7 255.18 71.57 254.88 71.35 254.65C71.12 254.43 70.82 254.3 70.5 254.3C70.18 254.3 69.88 254.43 69.65 254.65C69.43 254.88 69.3 255.18 69.3 255.5C69.3 255.82 69.43 256.12 69.65 256.35C69.88 256.57 70.18 256.7 70.5 256.7Z" style="fill:#d3d3d3;stroke:#000000;stroke-opacity:0"/>
<path d="M74.5 256.7C74.82 256.7 75.12 256.57 75.35 256.35C75.57 256.12 75.7 255.82 75.7 255.5C75.7 255.18 75.57 254.88 75.35 254.65C75.12 254.43 74.82 254.3 74.5 254.3C74.18 254.3 73.88 254.43 73.65 254.65C73.43 254.88 73.3 255.18 73.3 255.5C73.3 255.82 73.43 256.12 73.65 256.35C73.88 256.57 74.18 256.7 74.5 256.7Z" style="fill:#d3d3d3;stroke:#000000;stroke-opacity:0"/>
<path d="M78.5 256.7C78.82 256.7 79.12 256.57 79.35 256.35C79.57 256.12 79.7 255.82 79.7 255.5C79.7 255.18 79.57 254.88 79.35 254.65C79.12 254.43 78.82 254.3 78.5 254.3C78.18 254.3 77.88 254.43 77.65 254.65C77.43 254.88 77.3 255.18 77.3 255.5C77.3 255.82 77.43 256.12 77.65 256.35C77.88 256.57 78.18 256.7 78.5 256.7Z" style="fill:#d3d3d3;stroke:#000000;stroke-opacity:0"/>
<path d="M80.5 256.7C80.82 256.7 81.12 256.57 81.35 256.35C81.57 256.12 81.7 255.82 81.7 255.5C81.7 255.18 81.57 254.88 81.35 254.65C81.12 254.43 80.82 254.3 80.5 254.3C80.18 254.3 79.88 254.43 79.65 254.65C79.43 254.88 79.3 255.18 79.3 255.5C79.3 255.82 79.43 256.12 79.65 256.35C79.88 256.57 80.18 256.7 80.5 256.7Z" style="fill:#d3d3d3;stroke:#000000;stroke-opacity:0"/>
<path d="M87.5 256.7C87.82 256.7 88.12 256.57 88.35 256.35C88.57 256.12 88.7 255.82 88.7 255.5C88.7 255.18 88.57 254.88 88.35 254.65C88.12 254.43 87.82 254.3 87.5 254.3C87.18 254.3 86.88 254.43 86.65 254.65C86.43 254.88 86.3 255.18 86.3 255.5C86.3 255.82 86.43 256.12 86.65 256.35C86.88 256.57 87.18 256.7 87.5 256.7Z" style="fill:#d3d3d3;stroke:#000000;stroke-opacity:0"/>
<path d="M89.5 256.7C89.82 256.7 90.12 256.57 90.35 256.35C90.57 256.12 90.7 255.82 90.7 255.5C90.7 255.18 90.57 254.88 90.35 254.65C90.12 254.43 89.82 254.3 89.5 254.3C89.18 254.3 88.88 254.43 88.65 254.65C88.43 254.88 88.3 255.18 88.3 255.5C88.3 255.82 88.43 256.12 88.65 256.35C88.88 256.57 89.18 256.7 89.5 256.7Z" style="fill:#d3d3d3;stroke:#000000;stroke-opacity:0"/>
<path d="M97.5 256.7C97.82 256.7 98.12 256.57 98.35 256.35C98.57 256.12 98.7 255.82 98.7 255.5C98.7 255.18 98.57 254.88 98.35 254.65C98.12 254.43 97.82 254.3 97.5 254.3C97.18 254.3 96.88 254.43 96.65 254.65C96.43 254.88 96.3 255.18 96.3 255.5C96.3 255.82 96.43 256.12 96.65 256.35C96.88 256.57 97.18 256.7 97.5 256.7Z" style="fill:#d3d3d3;stroke:#000000;stroke-opacity:0"/>
<path d="M98.5 256.7C98.82 256.7 99.12 256.57 99.35 256.35C99.57 256.12 99.7 255.82 99.7 255.5C99.7 255.18 99.57 254.88 99.35 254.65C99.12 254.43 98.82 254.3 98.5 254.3C98.18 254.3 97.88 254.43 97.65 254.65C97.43 254.88 97.3 255.18 97.3 255.5C97.3 255.82 97.43 256.12 97.65 256.35C97.88 256.57 98.18 256.7 98.5 256.7Z" style="fill:#d3d3d3;stroke:#000000;stroke-opacity:0"/>
<path d="M103.5 256.7C103.82 256.7 104.12 256.57 104.35 256.35C104.57 256.12 104.7 255.82 104.7 255.5C104.7 255.18 104.57 254.88 104.35 254.65C104.12 254.43 103.82 254.3 103.5 254.3C103.18 254.3 102.88 254.43 102.65 254.65C102.43 254.88 102.3 255.18 102.3 255.5C102.3 255.82 102.43 256.12 102.65 256.35C102.88 256.57 103.18 256.7 103.5 256.7Z" style="fill:#d3d3d3;stroke:#000000;stroke-opacity:0"/>
<path d="M107.5 256.7C107.82 256.7 108.12 256.57 108.35 256.35C108.57 256.12 108.7 255.82 108.7 255.5C108.7 255.18 108.57 254.88 108.35 254.65C108.12 254.43 107.82 254.3 107.5 254.3C107.18 254.3 106.88 254.43 106.65 254.65C106.43 254.88 106.3 255.18 106.3 255.5C106.3 255.82 106.43 256.12 106.65 256.35C106.88 256.57 107.18 256.7 107.5 256.7Z" style="fill:#d3d3d3;stroke:#000000;stroke-opacity:0"/>
<path d="M109.5 256.7C109.82 256.7 110.12 256.57 110.35 256.35C110.57 256.12 110.7 255.82 110.7 255.5C110.7 255.18 110.57 254.88 110.35 254.65C110.12 254.43 109.82 254.3 109.5 254.3C109.18 254.3 108.88 254.43 108.65 254.65C108.43 254.88 108.3 255.18 108.3 255.5C108.3 255.82 108.43 256.12 108.65 256.35C108.88 256.57 109.18 256.7 109.5 256.7Z" style="fill:#d3d3d3;stroke:#000000;stroke-opacity:0"/>
<path d="M117.5 256.7C117.82 256.7 118.12 256.57 118.35 256.35C118.57 256.12 118.7 255.82 118.7 255.5C118.7 255.18 118.57 254.88 118.35 254.65C118.12 254.43 117.82 254.3 117.5 254.3C117.18 254.3 116.88 254.43 116.65 254.65C116.43 254.88 116.3 255.18 116.3 255.5C116.3 255.82 116.43 256.12 116.65 256.35C116.88 256.57 117.18 256.7 117.5 256.7Z" style="fill:#d3d3d3;stroke:#000000;stroke-opacity:0"/>
<path d="M118.5 256.7C118.82 256.7 119.12 256.57 119.35 256.35C119.57 256.12 119.7 255.82 119.7 255.5C119.7 255.18 119.57 254.88 119.35 254.65C119.12 254.43 118.82 254.3 118.5 254.3C118.18 254.3 117.88 254.43 117.65 254.65C117.43 254.88 117.3 255.18 117.3 255.5C117.3 255.82 117.43 256.12 117.65 256.35C117.88 256.57 118.18 256.7 118.5 256.7Z" style="fill:#d3d3d3;stroke:#000000;stroke-opacity:0"/>
<path d="M122.5 256.7C122.82 256.7 123.12 256.57 123.35 256.35C123.57 256.12 123.7 255.82 123.7 255.5C123.7 255.18 123.57 254.88 123.35 254.65C123.12 254.43 122.82 254.3 122.5 254.3C122.18 254.3 121.88 254.43 121.65 254.65C121.43 254.88 121.3 255.18 121.3 255.5C121.3 255.82 121.43 256.12 121.65 256.35C121.88 256.57 122.18 256.7 122.5 256.7Z" style="fill:#d3d3d3;stroke:#000000;stroke-opacity:0"/>
<path d="M127.5 256.7C127.82 256.7 128.12 256.57 128.35 256.35C128.57 256.12 128.7 255.82 128.7 255.5C128.7 255.18 128.57 254.88 128.35 254.65C128.12 254.43 127.82 254.3 127.5 254.3C127.18 254.3 126.88 254.43 126.65 254.65C126.43 254.88 126.3 255.18 126.3 255.5C126.3 255.82 126.43 256.12 126.65 256.35C126.88 256.57 127.18 256.7 127.5 256.7Z" style="fill:#d3d3d3;stroke:#000000;stroke-opacity:0"/>
<path d="M132.5 256.7C132.82 256.7 133.12 256.57 133.35 256.35C133.57 256.12 133.7 255.82 133.7 255.5C133.7 255.18 133.57 254.88 133.35 254.65C133.12 254.43 132.82 254.3 132.5 254.3C132.18 254.3 131.88 254.43 131.65 254.65C131.43 254.88 131.3 255.18 131.3 255.5C131.3 255.82 131.43 256.12 131.65 256.35C131.88 256.57 132.18 256.7 132.5 256.7Z" style="fill:#d3d3d3;stroke:#000000;stroke-opacity:0"/>
<path d="M137.5 256.7C137.82 256.7 138.12 256.57 138.35 256.35C138.57 256.12 138.7 255.82 138.7 255.5C138.7 255.18 138.57 254.88 138.35 254.65C138.12 254.43 137.82 254.3 137.5 254.3C137.18 254.3 136.88 254.43 136.65 254.65C136.43 254.88 136.3 255.18 136.3 255.5C136.3 255.82 136.43 256.12 136.65 256.35C136.88 256.57 137.18 256.7 137.5 256.7Z" style="fill:#d3d3d3;stroke:#000000;stroke-opacity:0"/>
<path d="M141.5 256.7C141.82 256.7 142.12 256.57 142.35 256.35C142.57 256.12 142.7 255.82 142.7 255.5C142.7 255.18 142.57 254.88 142.35 254.65C142.12 254.43 141.82 254.3 141.5 254.3C141.18 254.3 140.88 254.43 140.65 254.65C140.43 254.88 140.3 255.18 140.3 255.5C140.3 255.82 140.43 256.12 140.65 256.35C140.88 256.57 141.18 256.7 141.5 256.7Z" style="fill:#d3d3d3;stroke:#000000;stroke-opacity:0"/>
<path d="M146.5 256.7C146.82 256.7 147.12 256.57 147.35 256.35C147.57 256.12 147.7 255.82 147.7 255.5C147.7 255.18 147.57 254.88 147.35 254.65C147.12 254.43 146.82 254.3 146.5 254.3C146.18 254.3 145.88 254.43 145.65 254.65C145.43 254.88 145.3 255.18 145.3 255.5C145.3 255.82 145.43 256.12 145.65 256.35C145.88 256.57 146.18 256.7 146.5 256.7Z" style="fill:#d3d3d3;stroke:#000000;stroke-opacity:0"/>
<path d="M151.5 256.7C151.82 256.7 152.12 256.57 152.35 256.35C152.57 256.12 152.7 255.82 152.7 255.5C152.7 255.18 152.57 254.88 152.35 254.65C152.12 254.43 151.82 254.3 151.5 254.3C151.18 254.3 150.88 254.43 150.65 254.65C150.43 254.88 150.3 255.18 150.3 255.5C150.3 255.82 150.43 256.12 150.65 256.35C150.88 256.57 151.18 256.7 151.5 256.7Z" style="fill:#d3d3d3;stroke:#000000;stroke-opacity:0"/>
<path d="M152.5 256.7C152.82 256.7 153.12 256.57 153.35 256.35C153.57 256.12 153.7 255.82 153.7 255.5C153.7 255.18 153.57 254.88 153.35 254.65C153.12 254.43 152.82 254.3 152.5 254.3C152.18 254.3 151.88 254.43 151.65 254.65C151.43 254.88 151.3 255.18 151.3 255.5C151.3 255.82 151.43 256.12 151.65 256.35C151.88 256.57 152.18 256.7 152.5 256.7Z" style="fill:#d3d3d3;stroke:#000000;stroke-opacity:0"/>
<path d="M159.5 256.7C159.82 256.7 160.12 256.57 160.35 256.35C160.57 256.12 160.7 255.82 160.7 255.5C160.7 255.18 160.57 254.88 160.35 254.65C160.12 254.43 159.82 254.3 159.5 254.3C159.18 254.3 158.88 254.43 158.65 254.65C158.43 254.88 158.3 255.18 158.3 255.5C158.3 255.82 158.43 256.12 158.65 256.35C158.88 256.57 159.18 256.7 159.5 256.7Z" style="fill:#d3d3d3;stroke:#000000;stroke-opacity:0"/>
<path d="M161.5 256.7C161.82 256.7 162.12 256.57 162.35 256.35C162.57 256.12 162.7 255.82 162.7 255.5C162.7 255.18 162.57 254.88 162.35 254.65C162.12 254.43 161.82 254.3 161.5 254.3C161.18 254.3 160.88 254.43 160.65 254.65C160.43 254.88 160.3 255.18 160.3 255.5C160.3 255.82 160.43 256.12 160.65 256.35C160.88 256.57 161.18 256.7 161.5 256.7Z" style="fill:#d3d3d3;stroke:#000000;stroke-opacity:0"/>
<path d="M165.5 256.7C165.82 256.7 166.12 256.57 166.35 256.35C166.57 256.12 166.7 255.82 166.7 255.5C166.7 255.18 166.57 254.88 166.35 254.65C166.12 254.43 165.82 254.3 165.5 254.3C165.18 254.3 164.88 254.43 164.65 254.65C164.43 254.88 164.3 255.18 164.3 255.5C164.3 255.82 164.43 256.12 164.65 256.35C164.88 256.57 165.18 256.7 165.5 256.7Z" style="fill:#d3d3d3;stroke:#000000;stroke-opacity:0"/>
<path d="M170.5 256.7C170.82 256.7 171.12 256.57 171.35 256.35C171.57 256.12 171.7 255.82 171.7 255.5C171.7 255.18 171.57 254.88 171.35 254.65C171.12 254.43 170.82 254.3 170.5 254.3C170.18 254.3 169.88 254.43 169.65 254.65C169.43 254.88 169.3 255.18 169.3 255.5C169.3 255.82 169.43 256.12 169.65 256.35C169.88 256.57 170.18 256.7 170.5 256.7Z" style="fill:#d3d3d3;stroke:#000000;stroke-opacity:0"/>
<path d="M174.5 256.7C174.82 256.7 175.12 256.57 175.35 256.35C175.57 256.12 175.7 255.82 175.7 255.5C175.7 255.18 175.57 254.88 175.35 254.65C175.12 254.43 174.82 254.3 174.5 254.3C174.18 254.3 173.88 254.43 173.65 254.65C173.43 254.88 173.3 255.18 173.3 255.5C173.3 255.82 173.43 256.12 173.65 256.35C173.88 256.57 174.18 256.7 174.5 256.7Z" style="fill:#d3d3d3;stroke:#000000;stroke-opacity:0"/>
<path d="M179.5 256.7C179.82 256.7 180.12 256.57 180.35 256.35C180.57 256.12 180.7 255.82 180.7 255.5C180.7 255.18 180.57 254.88 180.35 254.65C180.12 254.43 179.82 254.3 179.5 254.3C179.18 254.3 178.88 254.43 178.65 254.65C178.43 254.88 178.3 255.18 178.3 255.5C178.3 255.82 178.43 256.12 178.65 256.35C178.88 256.57 179.18 256.7 179.5 256.7Z" style="fill:#d3d3d3;stroke:#000000;stroke-opacity:0"/>
<path d="M180.5 256.7C180.82 256.7 181.12 256.57 181.35 256.35C181.57 256.12 181.7 255.82 181.7 255.5C181.7 255.18 181.57 254.88 181.35 254.65C181.12 254.43 180.82 254.3 180.5 254.3C180.18 254.3 179.88 254.43 179.65 254.65C179.43 254.88 179.3 255.18 179.3 255.5C179.3 255.82 179.43 256.12 179.65 256.35C179.88 256.57 180.18 256.7 180.5 256.7Z" style="fill:#d3d3d3;stroke:#000000;stroke-opacity:0"/>
<path d="M189.5 256.7C189.82 256.7 190.12 256.57 190.35 256.35C190.57 256.12 190.7 255.82 190.7 255.5C190.7 255.18 190.57 254.88 190.35 254.65C190.12 254.43 189.82 254.3 189.5 254.3C189.18 254.3 188.88 254.43 188.65 254.65C188.43 254.88 188.3 255.18 188.3 255.5C188.3 255.82 188.43 256.12 188.65 256.35C188.88 256.57 189.18 256.7 189.5 256.7Z" style="fill:#d3d3d3;stroke:#000000;stroke-opacity:0"/>
<path d="M190.5 256.7C190.82 256.7 191.12 256.57 191.35 256.35C191.57 256.12 191.7 255.82 191.7 255.5C191.7 255.18 191.57 254.88 191.35 254.65C191.12 254.43 190.82 254.3 190.5 254.3C190.18 254.3 189.88 254.43 189.65 254.65C189.43 254.88 189.3 255.18 189.3 255.5C189.3 255.82 189.43 256.12 189.65 256.35C189.88 256.57 190.18 256.7 190.5 256.7Z" style="fill:#d3d3d3;stroke:#000000;stroke-opacity:0"/>
</g>
<g clip-path="url(#c1)">
<path d="M73.5 360.7C73.82 360.7 74.12 360.57 74.35 360.35C74.57 360.12 74.7 359.82 74.7 359.5C74.7 359.18 74.57 358.88 74.35 358.65C74.12 358.43 73.82 358.3 73.5 358.3C73.18 358.3 72.88 358.43 72.65 358.65C72.43 358.88 72.3 359.18 72.3 359.5C72.3 359.82 72.43 360.12 72.65 360.35C72.88 360.57 73.18 360.7 73.5 360.7Z" style="fill:#d3d3d3;stroke:#000000;stroke-opacity:0"/>
<path d="M77.5 360.7C77.82 360.7 78.12 360.57 78.35 360.35C78.57 360.12 78.7 359.82 78.7 359.5C78.7 359.18 78.57 358.88 78.35 358.65C78.12 358.43 77.82 358.3 77.5 358.3C77.18 358.3 76.88 358.43 76.65 358.65C76.43 358.88 76.3 359.18 76.3 359.5C76.3 359.82 76.43 360.12 76.65 360.35C76.88 360.57 77.18 360.7 77.5 360.7Z" style="fill:#d3d3d3;stroke:#000000;stroke-opacity:0"/>
<path d="M79.5 360.7C79.82 360.7 80.12 360.57 80.35 360.35C80.57 360.12 80.7 359.82 80.7 359.5C80.7 359.18 80.57 358.88 80.35 358.65C80.12 358.43 79.82 358.3 79.5 358.3C79.18 358.3 78.88 358.43 78.65 358.65C78.43 358.88 78.3 359.18 78.3 359.5C78.3 359.82 78.43 360.12 78.65 360.35C78.88 360.57 79.18 360.7 79.5 360.7Z" style="fill:#d3d3d3;stroke:#000000;stroke-opacity:0"/>
<path d="M84.5 360.7C84.82 360.7 85.12 360.57 85.35 360.35C85.57 360.12 85.7 359.82 85.7 359.5C85.7 359.18 85.57 358.88 85.35 358.65C85.12 358.43 84.82 358.3 84.5 358.3C84.18 358.3 83.88 358.43 83.65 358.65C83.43 358.88 83.3 359.18 83.3 359.5C83.3 359.82 83.43 360.12 83.65 360.35C83.88 360.57 84.18 360.7 84.5 360.7Z" style="fill:#d3d3d3;stroke:#000000;stroke-opacity:0"/>
<path d="M88.5 360.7C88.82 360.7 89.12 360.57 89.35 360.35C89.57 360.12 89.7 359.82 89.7 359.5C89.7 359.18 89.57 358.88 89.35 358.65C89.12 358.43 88.82 358.3 88.5 358.3C88.18 358.3 87.88 358.43 87.65 358.65C87.43 358.88 87.3 359.18 87.3 359.5C87.3 359.82 87.43 360.12 87.65 360.35C87.88 360.57 88.18 360.7 88.5 360.7Z" style="fill:#d3d3d3;stroke:#000000;stroke-opacity:0"/>
<path d="M93.5 360.7C93.82 360.7 94.12 360.57 94.35 360.35C94.57 360.12 94.7 359.82 94.7 359.5C94.7 359.18 94.57 358.88 94.35 358.65C94.12 358.43 93.82 358.3 93.5 358.3C93.18 358.3 92.88 358.43 92.65 358.65C92.43 358.88 92.3 359.18 92.3 359.5C92.3 359.82 92.43 360.12 92.65 360.35C92.88 360.57 93.18 360.7 93.5 360.7Z" style="fill:#d3d3d3;stroke:#000000;stroke-opacity:0"/>
<path d="M95.5 360.7C95.82 360.7 96.12 360.57 96.35 360.35C96.57 360.12 96.7 359.82 96.7 359.5C96.7 359.18 96.57 358.88 96.35 358.65C96.12 358.43 95.82 358.3 95.5 358.3C95.18 358.3 94.88 358.43 94.65 358.65C94.43 358.88 94.3 359.18 94.3 359.5C94.3 359.82 94.43 360.12 94.65 360.35C94.88 360.57 95.18 360.7 95.5 360.7Z" style="fill:#d3d3d3;stroke:#000000;stroke-opacity:0"/>
<path d="M103.5 360.7C103.82 360.7 104.12 360.57 104.35 360.35C104.57 360.12 104.7 359.82 104.7 359.5C104.7 359.18 104.57 358.88 104.35 358.65C104.12 358.43 103.82 358.3 103.5 358.3C103.18 358.3 102.88 358.43 102.65 358.65C102.43 358.88 102.3 359.18 102.3 359.5C102.3 359.82 102.43 360.12 102.65 360.35C102.88 360.57 103.18 360.7 103.5 360.7Z" style="fill:#d3d3d3;stroke:#000000;stroke-opacity:0"/>
<path d="M105.5 360.7C105.82 360.7 106.12 360.57 106.35 360.35C106.57 360.12 106.7 359.82 106.7 359.5C106.7 359.18 106.57 358.88 106.35 358.65C106.12 358.43 105.82 358.3 105.5 358.3C105.18 358.3 104.88 358.43 104.65 358.65C104.43 358.88 104.3 359.18 104.3 359.5C104.3 359.82 104.43 360.12 104.65 360.35C104.88 360.57 105.18 360.7 105.5 360.7Z" style="fill:#d3d3d3;stroke:#000000;stroke-opacity:0"/>
<path d="M109.5 360.7C109.82 360.7 110.12 360.57 110.35 360.35C110.57 360.12 110.7 359.82 110.7 359.5C110.7 359.18 110.57 358.88 110.35 358.65C110.12 358.43 109.82 358.3 109.5 358.3C109.18 358.3 108.88 358.43 108.65 358.65C108.43 358.88 108.3 359.18 108.3 359.5C108.3 359.82 108.43 360.12 108.65 360.35C108.88 360.57 109.18 360.7 109.5 360.7Z" style="fill:#d3d3d3;stroke:#000000;stroke-opacity:0"/>
<path d="M113.5 360.7C113.82 360.7 114.12 360.57 114.35 360.35C114.57 360.12 114.7 359.82 114.7 359.5C114.7 359.18 114.57 358.88 114.35 358.65C114.12 358.43 113.82 358.3 113.5 358.3C113.18 358.3 112.88 358.43 112.65 358.65C112.43 358.88 112.3 359.18 112.3 359.5C112.3 359.82 112.43 360.12 112.65 360.35C112.88 360.57 113.18 360.7 113.5 360.7Z" style="fill:#d3d3d3;stroke:#000000;stroke-opacity:0"/>
<path d="M119.5 360.7C119.82 360.7 120.12 360.57 120.35 360.35C120.57 360.12 120.7 359.82 120.7 359.5C120.7 359.18 120.57 358.88 120.35 358.65C120.12 358.43 119.82 358.3 119.5 358.3C119.18 358.3 118.88 358.43 118.65 358.65C118.43 358.88 118.3 359.18 118.3 359.5C118.3 359.82 118.43 360.12 118.65 360.35C118.88 360.57 119.18 360.7 119.5 360.7Z" style="fill:#d3d3d3;stroke:#000000;stroke-opacity:0"/>
<path d="M120.5 360.7C120.82 360.7 121.12 360.57 121.35 360.35C121.57 360.12 121.7 359.82 121.7 359.5C121.7 359.18 121.57 358.88 121.35 358.65C121.12 358.43 120.82 358.3 120.5 358.3C120.18 358.3 119.88 358.43 119.65 358.65C119.43 358.88 119.3 359.18 119.3 359.5C119.3 359.82 119.43 360.12 119.65 360.35C119.88 360.57 120.18 360.7 120.5 360.7Z" style="fill:#d3d3d3;stroke:#000000;stroke-opacity:0"/>
<path d="M123.5 360.7C123.82 360.7 124.12 360.57 124.35 360.35C124.57 360.12 124.7 359.82 124.7 359.5C124.7 359.18 124.57 358.88 124.35 358.65C124.12 358.43 123.82 358.3 123.5 358.3C123.18 358.3 122.88 358.43 122.65 358.65C122.43 358.88 122.3 359.18 122.3 359.5C122.3 359.82 122.43 360.12 122.65 360.35C122.88 360.57 123.18 360.7 123.5 360.7Z" style="fill:#d3d3d3;stroke:#000000;stroke-opacity:0"/>
<path d="M130.5 360.7C130.82 360.7 131.12 360.57 131.35 360.35C131.57 360.12 131.7 359.82 131.7 359.5C131.7 359.18 131.57 358.88 131.35 358.65C131.12 358.43 130.82 358.3 130.5 358.3C130.18 358.3 129.88 358.43 129.65 358.65C129.43 358.88 129.3 359.18 129.3 359.5C129.3 359.82 129.43 360.12 129.65 360.35C129.88 360.57 130.18 360.7 130.5 360.7Z" style="fill:#d3d3d3;stroke:#000000;stroke-opacity:0"/>
<path d="M134.5 360.7C134.82 360.7 135.12 360.57 135.35 360.35C135.57 360.12 135.7 359.82 135.7 359.5C135.7 359.18 135.57 358.88 135.35 358.65C135.12 358.43 134.82 358.3 134.5 358.3C134.18 358.3 133.88 358.43 133.65 358.65C133.43 358.88 133.3 359.18 133.3 359.5C133.3 359.82 133.43 360.12 133.65 360.35C133.88 360.57 134.18 360.7 134.5 360.7Z" style="fill:#d3d3d3;stroke:#000000;stroke-opacity:0"/>
<path d="M135.5 360.7C135.82 360.7 136.12 360.57 136.35 360.35C136.57 360.12 136.7 359.82 136.7 359.5C136.7 359.18 136.57 358.88 136.35 358.65C136.12 358.43 135.82 358.3 135.5 358.3C135.18 358.3 134.88 358.43 134.65 358.65C134.43 358.88 134.3 359.18 134.3 359.5C134.3 359.82 134.43 360.12 134.65 360.35C134.88 360.57 135.18 360.7 135.5 360.7Z" style="fill:#d3d3d3;stroke:#000000;stroke-opacity:0"/>
<path d="M141.5 360.7C141.82 360.7 142.12 360.57 142.35 360.35C142.57 360.12 142.7 359.82 142.7 359.5C142.7 359.18 142.57 358.88 142.35 358.65C142.12 358.43 141.82 358.3 141.5 358.3C141.18 358.3 140.88 358.43 140.65 358.65C140.43 358.88 140.3 359.18 140.3 359.5C140.3 359.82 140.43 360.12 140.65 360.35C140.88 360.57 141.18 360.7 141.5 360.7Z" style="fill:#d3d3d3;stroke:#000000;stroke-opacity:0"/>
<path d="M145.5 360.7C145.82 360.7 146.12 360.57 146.35 360.35C146.57 360.12 146.7 359.82 146.7 359.5C146.7 359.18 146.57 358.88 146.35 358.65C146.12 358.43 145.82 358.3 145.5 358.3C145.18 358.3 144.88 358.43 144.65 358.65C144.43 358.88 144.3 359.18 144.3 359.5C144.3 359.82 144.43 360.12 144.65 360.35C144.88 360.57 145.18 360.7 145.5 360.7Z" style="fill:#d3d3d3;stroke:#000000;stroke-opacity:0"/>
<path d="M149.5 360.7C149.82 360.7 150.12 360.57 150.35 360.35C150.57 360.12 150.7 359.82 150.7 359.5C150.7 359.18 150.57 358.88 150.35 358.65C150.12 358.43 149.82 358.3 149.5 358.3C149.18 358.3 148.88 358.43 148.65 358.65C148.43 358.88 148.3 359.18 148.3 359.5C148.3 359.82 148.43 360.12 148.65 360.35C148.88 360.57 149.18 360.7 149.5 360.7Z" style="fill:#d3d3d3;stroke:#000000;stroke-opacity:0"/>
<path d="M155.5 360.7C155.82 360.7 156.12 360.57 156.35 360.35C156.57 360.12 156.7 359.82 156.7 359.5C156.7 359.18 156.57 358.88 156.35 358.65C156.12 358.43 155.82 358.3 155.5 358.3C155.18 358.3 154.88 358.43 154.65 358.65C154.43 358.88 154.3 359.18 154.3 359.5C154.3 359.82 154.43 360.12 154.65 360.35C154.88 360.57 155.18 360.7 155.5 360.7Z" style="fill:#d3d3d3;stroke:#000000;stroke-opacity:0"/>
<path d="M156.5 360.7C156.82 360.7 157.12 360.57 157.35 360.35C157.57 360.12 157.7 359.82 157.7 359.5C157.7 359.18 157.57 358.88 157.35 358.65C157.12 358.43 156.82 358.3 156.5 358.3C156.18 358.3 155.88 358.43 155.65 358.65C155.43 358.88 155.3 359.18 155.3 359.5C155.3 359.82 155.43 360.12 155.65 360.35C155.88 360.57 156.18 360.7 156.5 360.7Z" style="fill:#d3d3d3;stroke:#000000;stroke-opacity:0"/>
<path d="M160.5 360.7C160.82 360.7 161.12 360.57 161.35 360.35C161.57 360.12 161.7 359.82 161.7 359.5C161.7 359.18 161.57 358.88 161.35 358.65C161.12 358.43 160.82 358.3 160.5 358.3C160.18 358.3 159.88 358.43 159.65 358.65C159.43 358.88 159.3 359.18 159.3 359.5C159.3 359.82 159.43 360.12 159.65 360.35C159.88 360.57 160.18 360.7 160.5 360.7Z" style="fill:#d3d3d3;stroke:#000000;stroke-opacity:0"/>
<path d="M166.5 360.7C166.82 360.7 167.12 360.57 167.35 360.35C167.57 360.12 167.7 359.82 167.7 359.5C167.7 359.18 167.57 358.88 167.35 358.65C167.12 358.43 166.82 358.3 166.5 358.3C166.18 358.3 165.88 358.43 165.65 358.65C165.43 358.88 165.3 359.18 165.3 359.5C165.3 359.82 165.43 360.12 165.65 360.35C165.88 360.57 166.18 360.7 166.5 360.7Z" style="fill:#d3d3d3;stroke:#000000;stroke-opacity:0"/>
<path d="M170.5 360.7C170.82 360.7 171.12 360.57 171.35 360.35C171.57 360.12 171.7 359.82 171.7 359.5C171.7 359.18 171.57 358.88 171.35 358.65C171.12 358.43 170.82 358.3 170.5 358.3C170.18 358.3 169.88 358.43 169.65 358.65C169.43 358.88 169.3 359.18 169.3 359.5C169.3 359.82 169.43 360.12 169.65 360.35C169.88 360.57 170.18 360.7 170.5 360.7Z" style="fill:#d3d3d3;stroke:#000000;stroke-opacity:0"/>
<path d="M172.5 360.7C172.82 360.7 173.12 360.57 173.35 360.35C173.57 360.12 173.7 359.82 173.7 359.5C173.7 359.18 173.57 358.88 173.35 358.65C173.12 358.43 172.82 358.3 172.5 358.3C172.18 358.3 171.88 358.43 171.65 358.65C171.43 358.88 171.3 359.18 171.3 359.5C171.3 359.82 171.43 360.12 171.65 360.35C171.88 360.57 172.18 360.7 172.5 360.7Z" style="fill:#d3d3d3;stroke:#000000;stroke-opacity:0"/>
<path d="M177.5 360.7C177.82 360.7 178.12 360.57 178.35 360.35C178.57 360.12 178.7 359.82 178.7 359.5C178.7 359.18 178.57 358.88 178.35 358.65C178.12 358.43 177.82 358.3 177.5 358.3C177.18 358.3 176.88 358.43 176.65 358.65C176.43 358.88 176.3 359.18 176.3 359.5C176.3 359.82 176.43 360.12 176.65 360.35C176.88 360.57 177.18 360.7 177.5 360.7Z" style="fill:#d3d3d3;stroke:#000000;stroke-opacity:0"/>
<path d="M181.5 360.7C181.82 360.7 182.12 360.57 182.35 360.35C182.57 360.12 182.7 359.82 182.7 359.5C182.7 359.18 182.57 358.88 182.35 358.65C182.12 358.43 181.82 358.3 181.5 358.3C181.18 358.3 180.88 358.43 180.65 358.65C180.43 358.88 180.3 359.18 180.3 359.5C180.3 359.82 180.43 360.12 180.65 360.35C180.88 360.57 181.18 360.7 181.5 360.7Z" style="fill:#d3d3d3;stroke:#000000;stroke-opacity:0"/>
<path d="M187.5 360.7C187.82 360.7 188.12 360.57 188.35 360.35C188.57 360.12 188.7 359.82 188.7 359.5C188.7 359.18 188.57 358.88 188.35 358.65C188.12 358.43 187.82 358.3 187.5 358.3C187.18 358.3 186.88 358.43 186.65 358.65C186.43 358.88 186.3 359.18 186.3 359.5C186.3 359.82 186.43 360.12 186.65 360.35C186.88 360.57 187.18 360.7 187.5 360.7Z" style="fill:#d3d3d3;stroke:#000000;stroke-opacity:0"/>
<path d="M191.5 360.7C191.82 360.7 192.12 360.57 192.35 360.35C192.57 360.12 192.7 359.82 192.7 359.5C192.7 359.18 192.57 358.88 192.35 358.65C192.12 358.43 191.82 358.3 191.5 358.3C191.18 358.3 190.88 358.43 190.65 358.65C190.43 358.88 190.3 359.18 190.3 359.5C190.3 359.82 190.43 360.12 190.65 360.35C190.88 360.57 191.18 360.7 191.5 360.7Z" style="fill:#d3d3d3;stroke:#000000;stroke-opacity:0"/>
<path d="M193.5 360.7C193.82 360.7 194.12 360.57 194.35 360.35C194.57 360.12 194.7 359.82 194.7 359.5C194.7 359.18 194.57 358.88 194.35 358.65C194.12 358.43 193.82 358.3 193.5 358.3C193.18 358.3 192.88 358.43 192.65 358.65C192.43 358.88 192.3 359.18 192.3 359.5C192.3 359.82 192.43 360.12 192.65 360.35C192.88 360.57 193.18 360.7 193.5 360.7Z" style="fill:#d3d3d3;stroke:#000000;stroke-opacity:0"/>
</g>
<g clip-path="url(#c1)">
<path d="M72.5 464.7C72.82 464.7 73.12 464.57 73.35 464.35C73.57 464.12 73.7 463.82 73.7 463.5C73.7 463.18 73.57 462.88 73.35 462.65C73.12 462.43 72.82 462.3 72.5 462.3C72.18 462.3 71.88 462.43 71.65 462.65C71.43 462.88 71.3 463.18 71.3 463.5C71.3 463.82 71.43 464.12 71.65 464.35C71.88 464.57 72.18 464.7 72.5 464.7Z" style="fill:#d3d3d3;stroke:#000000;stroke-opacity:0"/>
<path d="M76.5 464.7C76.82 464.7 77.12 464.57 77.35 464.35C77.57 464.12 77.7 463.82 77.7 463.5C77.7 463.18 77.57 462.88 77.35 462.65C77.12 462.43 76.82 462.3 76.5 462.3C76.18 462.3 75.88 462.43 75.65 462.65C75.43 462.88 75.3 463.18 75.3 463.5C75.3 463.82 75.43 464.12 75.65 464.35C75.88 464.57 76.18 464.7 76.5 464.7Z" style="fill:#d3d3d3;stroke:#000000;stroke-opacity:0"/>
<path d="M81.5 464.7C81.82 464.7 82.12 464.57 82.35 464.35C82.57 464.12 82.7 463.82 82.7 463.5C82.7 463.18 82.57 462.88 82.35 462.65C82.12 462.43 81.82 462.3 81.5 462.3C81.18 462.3 80.88 462.43 80.65 462.65C80.43 462.88 80.3 463.18 80.3 463.5C80.3 463.82 80.43 464.12 80.65 464.35C80.88 464.57 81.18 464.7 81.5 464.7Z" style="fill:#d3d3d3;stroke:#000000;stroke-opacity:0"/>
<path d="M85.5 464.7C85.82 464.7 86.12 464.57 86.35 464.35C86.57 464.12 86.7 463.82 86.7 463.5C86.7 463.18 86.57 462.88 86.35 462.65C86.12 462.43 85.82 462.3 85.5 462.3C85.18 462.3 84.88 462.43 84.65 462.65C84.43 462.88 84.3 463.18 84.3 463.5C84.3 463.82 84.43 464.12 84.65 464.35C84.88 464.57 85.18 464.7 85.5 464.7Z" style="fill:#d3d3d3;stroke:#000000;stroke-opacity:0"/>
<path d="M90.5 464.7C90.82 464.7 91.12 464.57 91.35 464.35C91.57 464.12 91.7 463.82 91.7 463.5C91.7 463.18 91.57 462.88 91.35 462.65C91.12 462.43 90.82 462.3 90.5 462.3C90.18 462.3 89.88 462.43 89.65 462.65C89.43 462.88 89.3 463.18 89.3 463.5C89.3 463.82 89.43 464.12 89.65 464.35C89.88 464.57 90.18 464.7 90.5 464.7Z" style="fill:#d3d3d3;stroke:#000000;stroke-opacity:0"/>
<path d="M94.5 464.7C94.82 464.7 95.12 464.57 95.35 464.35C95.57 464.12 95.7 463.82 95.7 463.5C95.7 463.18 95.57 462.88 95.35 462.65C95.12 462.43 94.82 462.3 94.5 462.3C94.18 462.3 93.88 462.43 93.65 462.65C93.43 462.88 93.3 463.18 93.3 463.5C93.3 463.82 93.43 464.12 93.65 464.35C93.88 464.57 94.18 464.7 94.5 464.7Z" style="fill:#d3d3d3;stroke:#000000;stroke-opacity:0"/>
<path d="M99.5 464.7C99.82 464.7 100.12 464.57 100.35 464.35C100.57 464.12 100.7 463.82 100.7 463.5C100.7 463.18 100.57 462.88 100.35 462.65C100.12 462.43 99.82 462.3 99.5 462.3C99.18 462.3 98.88 462.43 98.65 462.65C98.43 462.88 98.3 463.18 98.3 463.5C98.3 463.82 98.43 464.12 98.65 464.35C98.88 464.57 99.18 464.7 99.5 464.7Z" style="fill:#d3d3d3;stroke:#000000;stroke-opacity:0"/>
<path d="M103.5 464.7C103.82 464.7 104.12 464.57 104.35 464.35C104.57 464.12 104.7 463.82 104.7 463.5C104.7 463.18 104.57 462.88 104.35 462.65C104.12 462.43 103.82 462.3 103.5 462.3C103.18 462.3 102.88 462.43 102.65 462.65C102.43 462.88 102.3 463.18 102.3 463.5C102.3 463.82 102.43 464.12 102.65 464.35C102.88 464.57 103.18 464.7 103.5 464.7Z" style="fill:#d3d3d3;stroke:#000000;stroke-opacity:0"/>
<path d="M104.5 464.7C104.82 464.7 105.12 464.57 105.35 464.35C105.57 464.12 105.7 463.82 105.7 463.5C105.7 463.18 105.57 462.88 105.35 462.65C105.12 462.43 104.82 462.3 104.5 462.3C104.18 462.3 103.88 462.43 103.65 462.65C103.43 462.88 103.3 463.18 103.3 463.5C103.3 463.82 103.43 464.12 103.65 464.35C103.88 464.57 104.18 464.7 104.5 464.7Z" style="fill:#d3d3d3;stroke:#000000;stroke-opacity:0"/>
<path d="M110.5 464.7C110.82 464.7 111.12 464.57 111.35 464.35C111.57 464.12 111.7 463.82 111.7 463.5C111.7 463.18 111.57 462.88 111.35 462.65C111.12 462.43 110.82 462.3 110.5 462.3C110.18 462.3 109.88 462.43 109.65 462.65C109.43 462.88 109.3 463.18 109.3 463.5C109.3 463.82 109.43 464.12 109.65 464.35C109.88 464.57 110.18 464.7 110.5 464.7Z" style="fill:#d3d3d3;stroke:#000000;stroke-opacity:0"/>
<path d="M114.5 464.7C114.82 464.7 115.12 464.57 115.35 464.35C115.57 464.12 115.7 463.82 115.7 463.5C115.7 463.18 115.57 462.88 115.35 462.65C115.12 462.43 114.82 462.3 114.5 462.3C114.18 462.3 113.88 462.43 113.65 462.65C113.43 462.88 113.3 463.18 113.3 463.5C113.3 463.82 113.43 464.12 113.65 464.35C113.88 464.57 114.18 464.7 114.5 464.7Z" style="fill:#d3d3d3;stroke:#000000;stroke-opacity:0"/>
<path d="M118.5 464.7C118.82 464.7 119.12 464.57 119.35 464.35C119.57 464.12 119.7 463.82 119.7 463.5C119.7 463.18 119.57 462.88 119.35 462.65C119.12 462.43 118.82 462.3 118.5 462.3C118.18 462.3 117.88 462.43 117.65 462.65C117.43 462.88 117.3 463.18 117.3 463.5C117.3 463.82 117.43 464.12 117.65 464.35C117.88 464.57 118.18 464.7 118.5 464.7Z" style="fill:#d3d3d3;stroke:#000000;stroke-opacity:0"/>
<path d="M123.5 464.7C123.82 464.7 124.12 464.57 124.35 464.35C124.57 464.12 124.7 463.82 124.7 463.5C124.7 463.18 124.57 462.88 124.35 462.65C124.12 462.43 123.82 462.3 123.5 462.3C123.18 462.3 122.88 462.43 122.65 462.65C122.43 462.88 122.3 463.18 122.3 463.5C122.3 463.82 122.43 464.12 122.65 464.35C122.88 464.57 123.18 464.7 123.5 464.7Z" style="fill:#d3d3d3;stroke:#000000;stroke-opacity:0"/>
<path d="M127.5 464.7C127.82 464.7 128.12 464.57 128.35 464.35C128.57 464.12 128.7 463.82 128.7 463.5C128.7 463.18 128.57 462.88 128.35 462.65C128.12 462.43 127.82 462.3 127.5 462.3C127.18 462.3 126.88 462.43 126.65 462.65C126.43 462.88 126.3 463.18 126.3 463.5C126.3 463.82 126.43 464.12 126.65 464.35C126.88 464.57 127.18 464.7 127.5 464.7Z" style="fill:#d3d3d3;stroke:#000000;stroke-opacity:0"/>
<path d="M131.5 464.7C131.82 464.7 132.12 464.57 132.35 464.35C132.57 464.12 132.7 463.82 132.7 463.5C132.7 463.18 132.57 462.88 132.35 462.65C132.12 462.43 131.82 462.3 131.5 462.3C131.18 462.3 130.88 462.43 130.65 462.65C130.43 462.88 130.3 463.18 130.3 463.5C130.3 463.82 130.43 464.12 130.65 464.35C130.88 464.57 131.18 464.7 131.5 464.7Z" style="fill:#d3d3d3;stroke:#000000;stroke-opacity:0"/>
<path d="M136.5 464.7C136.82 464.7 137.12 464.57 137.35 464.35C137.57 464.12 137.7 463.82 137.7 463.5C137.7 463.18 137.57 462.88 137.35 462.65C137.12 462.43 136.82 462.3 136.5 462.3C136.18 462.3 135.88 462.43 135.65 462.65C135.43 462.88 135.3 463.18 135.3 463.5C135.3 463.82 135.43 464.12 135.65 464.35C135.88 464.57 136.18 464.7 136.5 464.7Z" style="fill:#d3d3d3;stroke:#000000;stroke-opacity:0"/>
<path d="M140.5 464.7C140.82 464.7 141.12 464.57 141.35 464.35C141.57 464.12 141.7 463.82 141.7 463.5C141.7 463.18 141.57 462.88 141.35 462.65C141.12 462.43 140.82 462.3 140.5 462.3C140.18 462.3 139.88 462.43 139.65 462.65C139.43 462.88 139.3 463.18 139.3 463.5C139.3 463.82 139.43 464.12 139.65 464.35C139.88 464.57 140.18 464.7 140.5 464.7Z" style="fill:#d3d3d3;stroke:#000000;stroke-opacity:0"/>
<path d="M144.5 464.7C144.82 464.7 145.12 464.57 145.35 464.35C145.57 464.12 145.7 463.82 145.7 463.5C145.7 463.18 145.57 462.88 145.35 462.65C145.12 462.43 144.82 462.3 144.5 462.3C144.18 462.3 143.88 462.43 143.65 462.65C143.43 462.88 143.3 463.18 143.3 463.5C143.3 463.82 143.43 464.12 143.65 464.35C143.88 464.57 144.18 464.7 144.5 464.7Z" style="fill:#d3d3d3;stroke:#000000;stroke-opacity:0"/>
<path d="M148.5 464.7C148.82 464.7 149.12 464.57 149.35 464.35C149.57 464.12 149.7 463.82 149.7 463.5C149.7 463.18 149.57 462.88 149.35 462.65C149.12 462.43 148.82 462.3 148.5 462.3C148.18 462.3 147.88 462.43 147.65 462.65C147.43 462.88 147.3 463.18 147.3 463.5C147.3 463.82 147.43 464.12 147.65 464.35C147.88 464.57 148.18 464.7 148.5 464.7Z" style="fill:#d3d3d3;stroke:#000000;stroke-opacity:0"/>
<path d="M153.5 464.7C153.82 464.7 154.12 464.57 154.35 464.35C154.57 464.12 154.7 463.82 154.7 463.5C154.7 463.18 154.57 462.88 154.35 462.65C154.12 462.43 153.82 462.3 153.5 462.3C153.18 462.3 152.88 462.43 152.65 462.65C152.43 462.88 152.3 463.18 152.3 463.5C152.3 463.82 152.43 464.12 152.65 464.35C152.88 464.57 153.18 464.7 153.5 464.7Z" style="fill:#d3d3d3;stroke:#000000;stroke-opacity:0"/>
<path d="M157.5 464.7C157.82 464.7 158.12 464.57 158.35 464.35C158.57 464.12 158.7 463.82 158.7 463.5C158.7 463.18 158.57 462.88 158.35 462.65C158.12 462.43 157.82 462.3 157.5 462.3C157.18 462.3 156.88 462.43 156.65 462.65C156.43 462.88 156.3 463.18 156.3 463.5C156.3 463.82 156.43 464.12 156.65 464.35C156.88 464.57 157.18 464.7 157.5 464.7Z" style="fill:#d3d3d3;stroke:#000000;stroke-opacity:0"/>
<path d="M161.5 464.7C161.82 464.7 162.12 464.57 162.35 464.35C162.57 464.12 162.7 463.82 162.7 463.5C162.7 463.18 162.57 462.88 162.35 462.65C162.12 462.43 161.82 462.3 161.5 462.3C161.18 462.3 160.88 462.43 160.65 462.65C160.43 462.88 160.3 463.18 160.3 463.5C160.3 463.82 160.43 464.12 160.65 464.35C160.88 464.57 161.18 464.7 161.5 464.7Z" style="fill:#d3d3d3;stroke:#000000;stroke-opacity:0"/>
<path d="M166.5 464.7C166.82 464.7 167.12 464.57 167.35 464.35C167.57 464.12 167.7 463.82 167.7 463.5C167.7 463.18 167.57 462.88 167.35 462.65C167.12 462.43 166.82 462.3 166.5 462.3C166.18 462.3 165.88 462.43 165.65 462.65C165.43 462.88 165.3 463.18 165.3 463.5C165.3 463.82 165.43 464.12 165.65 464.35C165.88 464.57 166.18 464.7 166.5 464.7Z" style="fill:#d3d3d3;stroke:#000000;stroke-opacity:0"/>
<path d="M170.5 464.7C170.82 464.7 171.12 464.57 171.35 464.35C171.57 464.12 171.7 463.82 171.7 463.5C171.7 463.18 171.57 462.88 171.35 462.65C171.12 462.43 170.82 462.3 170.5 462.3C170.18 462.3 169.88 462.43 169.65 462.65C169.43 462.88 169.3 463.18 169.3 463.5C169.3 463.82 169.43 464.12 169.65 464.35C169.88 464.57 170.18 464.7 170.5 464.7Z" style="fill:#d3d3d3;stroke:#000000;stroke-opacity:0"/>
<path d="M174.5 464.7C174.82 464.7 175.12 464.57 175.35 464.35C175.57 464.12 175.7 463.82 175.7 463.5C175.7 463.18 175.57 462.88 175.35 462.65C175.12 462.43 174.82 462.3 174.5 462.3C174.18 462.3 173.88 462.43 173.65 462.65C173.43 462.88 173.3 463.18 173.3 463.5C173.3 463.82 173.43 464.12 173.65 464.35C173.88 464.57 174.18 464.7 174.5 464.7Z" style="fill:#d3d3d3;stroke:#000000;stroke-opacity:0"/>
<path d="M179.5 464.7C179.82 464.7 180.12 464.57 180.35 464.35C180.57 464.12 180.7 463.82 180.7 463.5C180.7 463.18 180.57 462.88 180.35 462.65C180.12 462.43 179.82 462.3 179.5 462.3C179.18 462.3 178.88 462.43 178.65 462.65C178.43 462.88 178.3 463.18 178.3 463.5C178.3 463.82 178.43 464.12 178.65 464.35C178.88 464.57 179.18 464.7 179.5 464.7Z" style="fill:#d3d3d3;stroke:#000000;stroke-opacity:0"/>
<path d="M183.5 464.7C183.82 464.7 184.12 464.57 184.35 464.35C184.57 464.12 184.7 463.82 184.7 463.5C184.7 463.18 184.57 462.88 184.35 462.65C184.12 462.43 183.82 462.3 183.5 462.3C183.18 462.3 182.88 462.43 182.65 462.65C182.43 462.88 182.3 463.18 182.3 463.5C182.3 463.82 182.43 464.12 182.65 464.35C182.88 464.57 183.18 464.7 183.5 464.7Z" style="fill:#d3d3d3;stroke:#000000;stroke-opacity:0"/>
<path d="M187.5 464.7C187.82 464.7 188.12 464.57 188.35 464.35C188.57 464.12 188.7 463.82 188.7 463.5C188.7 463.18 188.57 462.88 188.35 462.65C188.12 462.43 187.82 462.3 187.5 462.3C187.18 462.3 186.88 462.43 186.65 462.65C186.43 462.88 186.3 463.18 186.3 463.5C186.3 463.82 186.43 464.12 186.65 464.35C186.88 464.57 187.18 464.7 187.5 464.7Z" style="fill:#d3d3d3;stroke:#000000;stroke-opacity:0"/>
<path d="M191.5 464.7C191.82 464.7 192.12 464.57 192.35 464.35C192.57 464.12 192.7 463.82 192.7 463.5C192.7 463.18 192.57 462.88 192.35 462.65C192.12 462.43 191.82 462.3 191.5 462.3C191.18 462.3 190.88 462.43 190.65 462.65C190.43 462.88 190.3 463.18 190.3 463.5C190.3 463.82 190.43 464.12 190.65 464.35C190.88 464.57 191.18 464.7 191.5 464.7Z" style="fill:#d3d3d3;stroke:#000000;stroke-opacity:0"/>
</g>
<rect x="68.945" y="47.944" width="1.111" height="416.111" fill="#000"/>
<rect x="68.945" y="462.945" width="126.111" height="1.111" fill="#000"/>
<text id="t14" x="57" y="37.5" style="font-weight:700;font-size:13.889px">A</text>
<g clip-path="url(#c2)">
<path d="M197.5 52.28C198.24 52.28 198.94 51.99 199.46 51.46C199.99 50.94 200.28 50.24 200.28 49.5C200.28 48.76 199.99 48.06 199.46 47.54C198.94 47.01 198.24 46.72 197.5 46.72C196.76 46.72 196.06 47.01 195.54 47.54C195.01 48.06 194.72 48.76 194.72 49.5C194.72 50.24 195.01 50.94 195.54 51.46C196.06 51.99 196.76 52.28 197.5 52.28Z" style="fill:#006400;stroke:#006400;stroke-width:1.389"/>
</g>
<g clip-path="url(#c2)">
<path d="M197.5 465.28C198.24 465.28 198.94 464.99 199.46 464.46C199.99 463.94 200.28 463.24 200.28 462.5C200.28 461.76 199.99 461.06 199.46 460.54C198.94 460.01 198.24 459.72 197.5 459.72C196.76 459.72 196.06 460.01 195.54 460.54C195.01 461.06 194.72 461.76 194.72 462.5C194.72 463.24 195.01 463.94 195.54 464.46C196.06 464.99 196.76 465.28 197.5 465.28Z" style="fill:#32cd32;stroke:#32cd32;stroke-width:1.389"/>
</g>
<path d="M237.05 124.3L238.4 157.6L240.2 83L242.4 197.9L244.9 64.4L247.1 188.5L249.2 98.1L251.1 143.5L252.8 119.5L254.4 168.8L256.5 74.3L258.5 200.7L261 67.7L263.3 179.5L265.2 109.4L266.9 139.6L268.5 110.5L270.4 179L272.8 68.1L275 200.7L277.5 73.9L279.4 169.6L280.9 119.5L282.7 142.6L284.6 99.5L286.5 187.7L289 64.4L291.4 198.3L293.5 82.4L295.4 158.7L297.3 124.6L298.4 151.2L300.7 88.6L302.9 194.7L305.2 63.6L307.4 192.8L309.7 91.9L311.4 148.2L313.1 123.4L314.5 161.8L317 79.6L319.4 199.5L321.5 64.9L323.4 185.5L325.8 102.6L327.4 141.3L329 116.5L330.9 172.8L333.3 71.5L335.5 201.5L337.8 70L339.5 175.6L341.5 113.9L343.5 140.7L344.9 105.4L347.4 182.7L349.4 66.6L350.55 153.1" clip-path="url(#c3)" style="fill:none;stroke:#b4b4b4;stroke-width:0.694;stroke-linecap:square"/>
<rect x="236.945" y="228.5" width="1.111" height="5" fill="#000"/>
<rect x="281.945" y="228.5" width="1.111" height="5" fill="#000"/>
<rect x="327.945" y="228.5" width="1.111" height="5" fill="#000"/>
<rect x="230.945" y="227.945" width="126.111" height="1.111" fill="#000"/>
<path d="M237.05 82.7L240.2 82.7L244.9 64.9L249.2 98.1L256.5 74L261 68.2L265.2 109.4L272.8 68.6L277.5 73.6L284.6 99.5L289 64.9L293.5 82.1L300.7 88.6L305.2 64.1L309.7 91.9L317 79.3L320.7 78.7L321.5 65.4L325.8 102.6L333.3 71.2L337.8 70.5L344.9 105.4L349.4 70.6L350.55 70.6" clip-path="url(#c3)" style="fill:none;stroke:#006400;stroke-width:1.667;stroke-linecap:square"/>
<text id="t15" x="218.95" y="29.65" style="font-weight:700;font-size:13.889px">B</text>
<path d="M236 208L238 208L238 210L236 210Z" clip-path="url(#c3)" style=""/>
<path d="M251 208L253 208L253 210L251 210Z" clip-path="url(#c3)" style=""/>
<path d="M268 208L270 208L270 210L268 210Z" clip-path="url(#c3)" style=""/>
<path d="M284 208L286 208L286 210L284 210Z" clip-path="url(#c3)" style=""/>
<path d="M296 208L298 208L298 210L296 210Z" clip-path="url(#c3)" style=""/>
<path d="M312 208L314 208L314 210L312 210Z" clip-path="url(#c3)" style=""/>
<path d="M329 208L331 208L331 210L329 210Z" clip-path="url(#c3)" style=""/>
<path d="M237.05 358.7L238.4 385.6L240.2 329.2L242.4 420.7L244.7 302L246.6 435.7L248.8 301.4L251.3 421.8L253.7 327.8L255.3 387.5L256.9 358.4L258.4 380.8L260.4 334.8L262.4 415.9L264.9 304.4L266.8 434.8L269.1 299.4L271.3 425.8L273.6 322.4L275.4 393.7L277.2 356.2L278.5 376.6L280.6 340.4L282.5 410.8L285.1 308.1L286.9 433.6L289.1 298.6L291.4 429.4L293.2 317.3L295.4 399.7L297.5 352.3L299 374.6L300.7 346.6L302.4 405.3L304.6 312L307.1 432L309.4 297.7L311.4 432L313.6 312.3L315.5 405L317.9 346.6L319.5 374.6L320.9 351.7L322.6 399.7L325.4 314.8L327.1 429.4L329.4 298.2L331.5 433.6L333.9 308.9L335.5 410.6L338.1 340.8L339.5 376.6L341.5 356L342.9 393.7L345.1 321.3L347.4 425.8L349.4 299.3L350.55 387.5" clip-path="url(#c4)" style="fill:none;stroke:#b4b4b4;stroke-width:0.694;stroke-linecap:square"/>
<rect x="236.945" y="463.5" width="1.111" height="5" fill="#000"/>
<text id="t16" x="233.12" y="481.82" style="font-size:12.5px">0</text>
<rect x="281.945" y="463.5" width="1.111" height="5" fill="#000"/>
<text id="t17" x="274.89 282.06" y="481.7" style="font-size:12.5px">20</text>
<rect x="327.945" y="463.5" width="1.111" height="5" fill="#000"/>
<text id="t18" x="320.94 328.08" y="481.57" style="font-size:12.5px">40</text>
<text id="t19" x="262.02 269.31 272.83 285.06 292.8 296.83 301.75 313.97 320.16" y="501.72" style="font-size:12.5px">Time [ms]</text>
<rect x="230.945" y="462.945" width="126.111" height="1.111" fill="#000"/>
<path d="M237.05 328.9L240.2 328.9L244.7 301.7L248.8 301.9L253.7 327.5L260.4 334.8L264.9 304.1L269.1 299.9L273.6 322.1L280.6 340.4L285.1 307.8L288.5 306.4L289.1 299.1L293.2 317L300.7 346.6L304.6 311.7L308.6 305.8L309.4 298.2L313.6 312L317.9 346.6L325.4 314.5L329.4 298.7L333.9 308.6L338.1 340.8L345.1 321L349.4 305.3L350.55 305.3" clip-path="url(#c4)" style="fill:none;stroke:#32cd32;stroke-width:1.667;stroke-linecap:square"/>
<path d="M236 442L238 442L238 444L236 444Z" clip-path="url(#c4)" style=""/>
<path d="M256 442L258 442L258 444L256 444Z" clip-path="url(#c4)" style=""/>
<path d="M260 442L262 442L262 444L260 444Z" clip-path="url(#c4)" style=""/>
<path d="M284 442L286 442L286 444L284 444Z" clip-path="url(#c4)" style=""/>
<path d="M300 442L302 442L302 444L300 444Z" clip-path="url(#c4)" style=""/>
<path d="M316 442L318 442L318 444L316 444Z" clip-path="url(#c4)" style=""/>
<path d="M321 442L323 442L323 444L321 444Z" clip-path="url(#c4)" style=""/>
<rect x="395.945" y="228.5" width="1.111" height="5" fill="#000"/>
<rect x="460.945" y="228.5" width="1.111" height="5" fill="#000"/>
<rect x="525.944" y="228.5" width="1.111" height="5" fill="#000"/>
<rect x="590.944" y="228.5" width="1.111" height="5" fill="#000"/>
<path d="M394.75 227.8L397.6 226.7L400.4 221.6L405.7 209.1L408.3 213.1L411.1 218.8L413.3 217.1L414.3 137.1L414.9 137.1L416.7 214.3L418.2 220.8L419.8 220.6L421.8 220.8L424.6 214.8L426.5 216.3L428 215.4L430 204.4L432.5 209.8L434.7 197.4L436.6 213.1L437.5 213.7L439.8 210.3L443.1 213.7L446.4 217.1L447.8 214.8L449.7 123.4L450.3 123.4L451.5 207.5L454 216.3L456.3 213.7L459.3 204.9L460.8 205.3L465.3 216.5L466.75 221.6L467.65 205L468.3 167.5L468.85 130L469.05 100L469.2 78L469.3 40L469.6 40L469.7 78L469.8 100L469.95 130L470.5 167.5L470.85 205L471.5 223.8L473.7 223.3L475.9 220.8L480.7 210.3L484.4 216.9L487.2 217.1L489.15 158.9L489.75 158.9L490.7 212L492 220.1L494 219.3L496.2 219L498.5 211.6L500.7 216.5L503.5 207.5L505.2 207.1L506.1 211.8L508.6 195.2L511.3 212.6L515.1 200.8L516.6 200.8L517.9 206.4L519.1 207L520.4 210.3L521.7 210.3L523.6 148.4L524.2 148.4L525.8 198.5L526.7 205.3L528.9 206.4L530.3 209.8L532 207.5L534.3 201.3L535.4 201.3L537.6 207.5L539.1 208.6L540.4 213.1L541.6 213.7L542.7 142.5L543.3 142.5L545.3 212L546.6 216L548.3 216.5L550.6 218.2L554.3 210.3L557.1 214.3L559.6 216L560.9 215.4L563 182.7L563.6 182.7L565.8 214.8L567.4 212.5L568.6 212.5L569.7 213.2L572.2 206.3L573.5 208L574.8 214.6L577 204.7L578.7 204.9L579.8 208.1L582.3 199L585.1 210.9L588.8 196.3L590.3 196L592.2 199.6L595 207.3L596.4 205.3L597.5 176.9L599.5 201.3L601.5 202.5L603.8 205.3" clip-path="url(#c5)" style="fill:none;stroke:#a9a9a9;stroke-width:2.083;stroke-linecap:square"/>
<path d="M432.5 228.5L432.5 48.5" clip-path="url(#c5)" style="fill:none;stroke-dasharray:2.569,1.111;stroke-dashoffset:0;stroke:#000000;stroke-width:0.694"/>
<rect x="389.945" y="227.945" width="215.111" height="1.111" fill="#000"/>
<text id="t20" x="370" y="29.9" style="font-weight:700;font-size:13.889px">C</text>
<g clip-path="url(#c5)">
<path d="M415.5 139.97C416.42 139.97 417.3 139.61 417.96 138.96C418.61 138.3 418.97 137.42 418.97 136.5C418.97 135.58 418.61 134.7 417.96 134.04C417.3 133.39 416.42 133.03 415.5 133.03C414.58 133.03 413.7 133.39 413.04 134.04C412.39 134.7 412.03 135.58 412.03 136.5C412.03 137.42 412.39 138.3 413.04 138.96C413.7 139.61 414.58 139.97 415.5 139.97Z" style="fill:#006400;stroke:#006400;stroke-width:1.389"/>
</g>
<g clip-path="url(#c5)">
<path d="M469.5 69.97C470.42 69.97 471.3 69.61 471.96 68.96C472.61 68.3 472.97 67.42 472.97 66.5C472.97 65.58 472.61 64.7 471.96 64.04C471.3 63.39 470.42 63.03 469.5 63.03C468.58 63.03 467.7 63.39 467.04 64.04C466.39 64.7 466.03 65.58 466.03 66.5C466.03 67.42 466.39 68.3 467.04 68.96C467.7 69.61 468.58 69.97 469.5 69.97Z" style="fill:#a9a9a9;stroke:#000000;stroke-width:1.389"/>
</g>
<rect x="395.945" y="463.5" width="1.111" height="5" fill="#000"/>
<text id="t21" x="392.1" y="481.82" style="font-size:12.5px">0</text>
<rect x="460.945" y="463.5" width="1.111" height="5" fill="#000"/>
<text id="t22" x="448.94 457.12 464.91" y="481.57" style="font-size:12.5px">500</text>
<rect x="525.944" y="463.5" width="1.111" height="5" fill="#000"/>
<text id="t23" x="509.92 516.99 525.06 532.89" y="481.57" style="font-size:12.5px">1000</text>
<rect x="590.944" y="463.5" width="1.111" height="5" fill="#000"/>
<text id="t24" x="575.02 582.07 590.11 597.93" y="481.57" style="font-size:12.5px">1500</text>
<text id="t25" x="450 456.29 461.18 468.9 476.86 484.81 492.53 500.47 507.5 514.79 518.79 523.68 533.11 539.45" y="500.6" style="font-size:12.5px">Frequency [Hz]</text>
<path d="M394.75 462.6L398.1 460.5L399.8 457.7L401.7 453.2L403.2 452.6L405.4 453.8L407.1 451.5L408.3 442.5L409.5 340.1L410.1 340.1L412 455.5L413.3 456.6L415.6 454.3L417.3 454.3L419.5 456L421.2 452.6L423.4 444.8L424.6 445L426 451.5L427.2 451.5L429.4 444.1L431.3 449.8L433 450.4L437.5 446.5L439.2 441.4L441.1 424.7L442.6 434.1L443.7 434L445.4 443.6L446.4 445.7L449 442.5L450.4 442.5L451.5 446.5L452.9 446.5L454.8 314.4L455.4 314.4L457.4 442.5L458.7 448.1L463.6 449.8L465 451.5L466.9 456.3L467.9 430L468.6 400L469.05 360L469.25 320L469.4 288.1L469.55 320L469.75 360L470.2 400L470.9 430L471.8 458.8L474.3 459.2L477.1 456.6L478.8 456.3L481.6 454.3L483 414.3L484.4 415.5L485.7 452.7L487.2 456.6L489.5 444.7L491.1 452.7L492.8 454.9L495.1 453.8L496.8 450.4L498.5 445.3L499.9 451L501.3 442.5L503.5 417.7L506.1 443.6L509.5 434.6L512.2 427.5L513.3 433.5L514.9 421.6L515.9 427.9L517.4 415.7L519.1 431.3L520.8 438.6L521.9 439.4L524.7 435.4L526.4 435.2L527.5 430.1L528.7 374.9L529.3 374.9L531.4 442.5L533.1 447L534.8 448.1L537.6 451L539.3 448.1L541.2 447.6L542.7 398.7L543.3 398.7L545.5 452.7L546.9 455.1L549.5 452.3L551.7 452.7L555.5 453L557.9 437.4L559.6 449.8L560.9 451.8L563.3 423.4L564.6 435.8L566.3 443.1L568.6 447.6L570.3 443.6L572.2 428.1L573.6 445.3L575 442.5L576.9 404.8L577.5 404.8L579.8 436.3L580.9 436.3L582.6 437.5L586 423.9L587.4 437.1L590 436.7L591.1 421.4L592.2 421.7L594.1 438L595.2 439.1L597.8 444.8L600.1 433.5L601.4 438.9L602.7 428.1L603.1 438.6" clip-path="url(#c6)" style="fill:none;stroke:#a9a9a9;stroke-width:2.083;stroke-linecap:square"/>
<path d="M432.5 463.5L432.5 282.5" clip-path="url(#c6)" style="fill:none;stroke-dasharray:2.569,1.111;stroke-dashoffset:0;stroke:#000000;stroke-width:0.694"/>
<rect x="389.945" y="462.945" width="215.111" height="1.111" fill="#000"/>
<g clip-path="url(#c6)">
<path d="M410.5 342.97C411.42 342.97 412.3 342.61 412.96 341.96C413.61 341.3 413.97 340.42 413.97 339.5C413.97 338.58 413.61 337.7 412.96 337.04C412.3 336.39 411.42 336.03 410.5 336.03C409.58 336.03 408.7 336.39 408.04 337.04C407.39 337.7 407.03 338.58 407.03 339.5C407.03 340.42 407.39 341.3 408.04 341.96C408.7 342.61 409.58 342.97 410.5 342.97Z" style="fill:#32cd32;stroke:#32cd32;stroke-width:1.389"/>
</g>
<g clip-path="url(#c6)">
<path d="M469.5 308.97C470.42 308.97 471.3 308.61 471.96 307.96C472.61 307.3 472.97 306.42 472.97 305.5C472.97 304.58 472.61 303.7 471.96 303.04C471.3 302.39 470.42 302.03 469.5 302.03C468.58 302.03 467.7 302.39 467.04 303.04C466.39 303.7 466.03 304.58 466.03 305.5C466.03 306.42 466.39 307.3 467.04 307.96C467.7 308.61 468.58 308.97 469.5 308.97Z" style="fill:#a9a9a9;stroke:#000000;stroke-width:1.389"/>
</g>
<rect x="68.945" y="573.5" width="1.111" height="5" fill="#000"/>
<rect x="135.945" y="573.5" width="1.111" height="5" fill="#000"/>
<rect x="201.945" y="573.5" width="1.111" height="5" fill="#000"/>
<rect x="267.945" y="573.5" width="1.111" height="5" fill="#000"/>
<rect x="334.945" y="573.5" width="1.111" height="5" fill="#000"/>
<rect x="400.945" y="573.5" width="1.111" height="5" fill="#000"/>
<rect x="466.945" y="573.5" width="1.111" height="5" fill="#000"/>
<rect x="532.944" y="573.5" width="1.111" height="5" fill="#000"/>
<rect x="599.944" y="573.5" width="1.111" height="5" fill="#000"/>
<rect x="64.5" y="528.944" width="5" height="1.111" fill="#000"/>
<text id="t26" x="35.9 42.95 50.87" y="533.75" style="font-size:12.5px">140</text>
<rect x="64.5" y="553.944" width="5" height="1.111" fill="#000"/>
<text id="t27" x="35.9 42.83 50.87" y="558.75" style="font-size:12.5px">120</text>
<text id="t28" x="4.21 12.76 19.95 23.91 28.79 38.2 44.76" y="546.3" transform="rotate(-90 26.93 546.3)" style="font-size:12.5px">AF [Hz]</text>
<path d="M557.07 520L603.85 571" clip-path="url(#c7)" style="fill:none;stroke:#a9a9a9;stroke-width:2.083;stroke-linecap:square"/>
<g clip-path="url(#c7)">
<path d="M604.5 574.62C605.33 574.62 606.12 574.3 606.71 573.71C607.3 573.12 607.62 572.33 607.62 571.5C607.62 570.67 607.3 569.88 606.71 569.29C606.12 568.7 605.33 568.38 604.5 568.38C603.67 568.38 602.88 568.7 602.29 569.29C601.7 569.88 601.38 570.67 601.38 571.5C601.38 572.33 601.7 573.12 602.29 573.71C602.88 574.3 603.67 574.62 604.5 574.62Z" style="fill:#32cd32;stroke:#32cd32;stroke-width:1.389"/>
</g>
<rect x="68.945" y="517.944" width="1.111" height="56.111" fill="#000"/>
<rect x="68.945" y="572.944" width="536.111" height="1.111" fill="#000"/>
<text id="t29" x="58.9" y="511.5" style="font-weight:700;font-size:13.889px">D</text>
<g clip-path="url(#c7)">
<path d="M557.5 523.62C558.33 523.62 559.12 523.3 559.71 522.71C560.3 522.12 560.62 521.33 560.62 520.5C560.62 519.67 560.3 518.88 559.71 518.29C559.12 517.7 558.33 517.38 557.5 517.38C556.67 517.38 555.88 517.7 555.29 518.29C554.7 518.88 554.38 519.67 554.38 520.5C554.38 521.33 554.7 522.12 555.29 522.71C555.88 523.3 556.67 523.62 557.5 523.62Z" style="fill:#006400;stroke:#006400;stroke-width:1.389"/>
</g>
<rect x="68.945" y="656.5" width="1.111" height="5" fill="#000"/>
<text id="t30" x="45.91 55.45 63.46 71.35 79.24 83.15" y="674.6 675.6 675.6 675.6 675.6 675.6" style="font-size:12.5px">−567.2</text>
<rect x="400.945" y="656.5" width="1.111" height="5" fill="#000"/>
<text id="t31" x="377.91 387.59 395.53 403.2 411.37 415.33" y="674.6 675.6 675.6 675.6 675.6 675.6" style="font-size:12.5px">−283.6</text>
<text id="t32" x="256.11 265.39 269.28 273.72 278.16 285.88 290.78 298.52 306.47 313.39 321.11 325.13 329.69 334.47 342.19 350.17 358.13 365.86 373.81 380.72 388.16 392.17 397.22 406.53 412.88" y="693.62" style="font-size:12.5px">Difference frequency [Hz]</text>
<rect x="64.5" y="617.944" width="5" height="1.111" fill="#000"/>
<text id="t33" x="35.98 43 51.03" y="622.5" style="font-size:12.5px">100</text>
<rect x="64.5" y="655.944" width="5" height="1.111" fill="#000"/>
<text id="t34" x="52" y="660.75" style="font-size:12.5px">0</text>
<text id="t35" x="-8.01 1.73 9.57 17.2 25.32 28.74 36.48 41.21 44.88 52.48" y="631.3" transform="rotate(-90 25.68 631.3)" style="font-size:12.5px">Modulation</text>
<path d="M557.07 620L568.76 615.6L580.46 615.6L592.15 614.8L603.85 610.6" clip-path="url(#c8)" style="fill:none;stroke:#808080;stroke-width:2.083;stroke-linecap:square"/>
<rect x="68.945" y="600.944" width="1.111" height="56.111" fill="#000"/>
<rect x="68.945" y="655.944" width="536.111" height="1.111" fill="#000"/>
<text id="t36" x="58.9" y="594.5" style="font-weight:700;font-size:13.889px">E</text>
<g clip-path="url(#c8)">
<path d="M557.5 618.62C558.33 618.62 559.12 618.3 559.71 617.71C560.3 617.12 560.62 616.33 560.62 615.5C560.62 614.67 560.3 613.88 559.71 613.29C559.12 612.7 558.33 612.38 557.5 612.38C556.67 612.38 555.88 612.7 555.29 613.29C554.7 613.88 554.38 614.67 554.38 615.5C554.38 616.33 554.7 617.12 555.29 617.71C555.88 618.3 556.67 618.62 557.5 618.62Z" style="fill:#006400;stroke:#006400;stroke-width:1.389"/>
</g>
<g clip-path="url(#c8)">
<path d="M604.5 612.62C605.33 612.62 606.12 612.3 606.71 611.71C607.3 611.12 607.62 610.33 607.62 609.5C607.62 608.67 607.3 607.88 606.71 607.29C606.12 606.7 605.33 606.38 604.5 606.38C603.67 606.38 602.88 606.7 602.29 607.29C601.7 607.88 601.38 608.67 601.38 609.5C601.38 610.33 601.7 611.12 602.29 611.71C602.88 612.3 603.67 612.62 604.5 612.62Z" style="fill:#32cd32;stroke:#32cd32;stroke-width:1.389"/>
</g>
<rect x="68.945" y="706.5" width="1.111" height="5" fill="#000"/>
<text id="t37" x="59.97 66.91 70.9" y="724.72" style="font-size:12.5px">0.0</text>
<rect x="135.945" y="706.5" width="1.111" height="5" fill="#000"/>
<text id="t38" x="125.93 132.99 137.1" y="724.72" style="font-size:12.5px">0.1</text>
<rect x="201.945" y="706.5" width="1.111" height="5" fill="#000"/>
<text id="t39" x="193 200.04 204.12" y="724.72" style="font-size:12.5px">0.2</text>
<rect x="267.945" y="706.5" width="1.111" height="5" fill="#000"/>
<text id="t40" x="258.97 265.91 269.9" y="724.72" style="font-size:12.5px">0.3</text>
<rect x="334.945" y="706.5" width="1.111" height="5" fill="#000"/>
<text id="t41" x="324.93 332.12 335.98" y="724.72" style="font-size:12.5px">0.4</text>
<rect x="400.945" y="706.5" width="1.111" height="5" fill="#000"/>
<text id="t42" x="391.99 399.03 403.11" y="724.72" style="font-size:12.5px">0.5</text>
<rect x="466.945" y="706.5" width="1.111" height="5" fill="#000"/>
<text id="t43" x="457.97 464.91 468.9" y="724.72" style="font-size:12.5px">0.6</text>
<rect x="532.944" y="706.5" width="1.111" height="5" fill="#000"/>
<text id="t44" x="523.93 531.12 534.98" y="724.72" style="font-size:12.5px">0.7</text>
<rect x="599.944" y="706.5" width="1.111" height="5" fill="#000"/>
<text id="t45" x="590.99 598.03 602.11" y="724.72" style="font-size:12.5px">0.8</text>
<text id="t46" x="292.02 299.9 309.73 319.34 323.3 335.46 343.37 346.84 351.73 355.18 363.1 366.68 374.49" y="743.62" style="font-size:12.5px">EOD multiples</text>
<rect x="68.945" y="705.944" width="536.111" height="1.111" fill="#000"/>
</svg>
</body></html>
